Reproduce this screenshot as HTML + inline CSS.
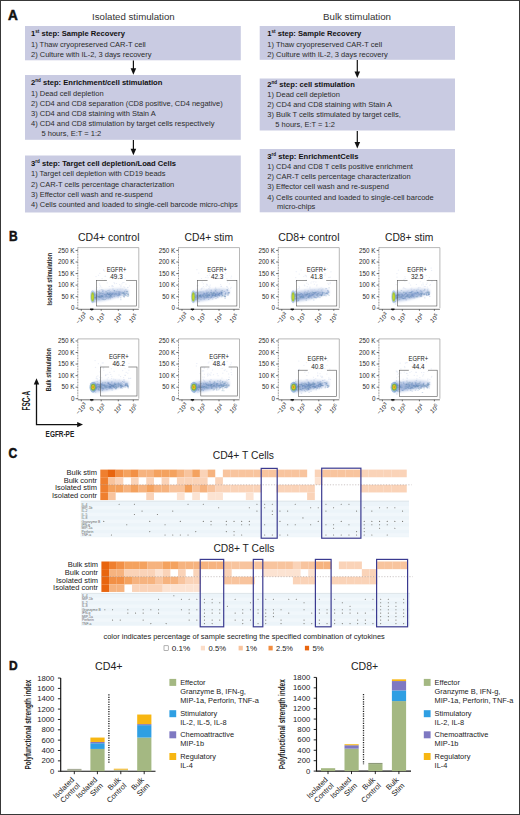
<!DOCTYPE html>
<html><head><meta charset="utf-8"><style>
html,body{margin:0;padding:0;background:#fff;}
svg{display:block;font-family:"Liberation Sans", sans-serif;}
</style></head><body>
<svg width="520" height="815" viewBox="0 0 520 815">
<defs><filter id="bl" x="-20%" y="-50%" width="140%" height="200%"><feGaussianBlur stdDeviation="0.8"/></filter></defs>
<rect x="0" y="0" width="520" height="815" fill="#fff"/>
<text x="8.00" y="19.70" font-size="13.8" fill="#111" font-weight="700" textLength="9.80" lengthAdjust="spacingAndGlyphs" stroke="#111" stroke-width="0.5">A</text>
<text x="92.00" y="19.60" font-size="9.6" fill="#333" textLength="82.70" lengthAdjust="spacingAndGlyphs">Isolated stimulation</text>
<text x="323.00" y="19.60" font-size="9.6" fill="#333" textLength="68.00" lengthAdjust="spacingAndGlyphs">Bulk stimulation</text>
<rect x="25.00" y="26.00" width="215.80" height="34.30" fill="#c9cbe2"/>
<g transform="translate(31.00,36.30) scale(1.0,1)"><text x="0" y="0" font-size="7.6" fill="#111" font-weight="700">1<tspan font-size="4.6" dy="-3.0">st</tspan><tspan dy="3.0"> step: Sample Recovery</tspan></text></g>
<text x="31.00" y="46.50" font-size="7.5" fill="#2b2b2b">1) Thaw cryopreserved CAR-T cell</text>
<text x="31.00" y="56.50" font-size="7.5" fill="#2b2b2b">2) Culture with IL-2, 3 days recovery</text>
<line x1="133.40" y1="60.50" x2="133.40" y2="69.70" stroke="#111" stroke-width="1.2"/>
<path d="M130.60,68.20 L136.20,68.20 L133.40,74.70 Z" fill="#111"/>
<rect x="25.00" y="75.00" width="215.80" height="64.80" fill="#c9cbe2"/>
<g transform="translate(31.00,85.30) scale(1.0,1)"><text x="0" y="0" font-size="7.6" fill="#111" font-weight="700">2<tspan font-size="4.6" dy="-3.0">nd</tspan><tspan dy="3.0"> step: Enrichment/cell stimulation</tspan></text></g>
<text x="31.00" y="95.80" font-size="7.5" fill="#2b2b2b">1) Dead cell depletion</text>
<text x="31.00" y="105.80" font-size="7.5" fill="#2b2b2b">2) CD4 and CD8 separation (CD8 positive, CD4 negative)</text>
<text x="31.00" y="115.80" font-size="7.5" fill="#2b2b2b">3) CD4 and CD8 staining with Stain A</text>
<text x="31.00" y="125.90" font-size="7.5" fill="#2b2b2b">4) CD4 and CD8 stimulation by target cells respectively</text>
<text x="41.50" y="135.80" font-size="7.5" fill="#2b2b2b">5 hours, E:T = 1:2</text>
<line x1="133.40" y1="140.00" x2="133.40" y2="150.30" stroke="#111" stroke-width="1.2"/>
<path d="M130.60,148.80 L136.20,148.80 L133.40,155.30 Z" fill="#111"/>
<rect x="25.00" y="155.50" width="215.80" height="57.00" fill="#c9cbe2"/>
<g transform="translate(31.00,165.70) scale(1.0,1)"><text x="0" y="0" font-size="7.6" fill="#111" font-weight="700">3<tspan font-size="4.6" dy="-3.0">rd</tspan><tspan dy="3.0"> step: Target cell depletion/Load Cells</tspan></text></g>
<text x="31.00" y="176.20" font-size="7.5" fill="#2b2b2b">1) Target cell depletion with CD19 beads</text>
<text x="31.00" y="186.50" font-size="7.5" fill="#2b2b2b">2) CAR-T cells percentage characterization</text>
<text x="31.00" y="196.60" font-size="7.5" fill="#2b2b2b">3) Effector cell wash and re-suspend</text>
<text x="31.00" y="206.80" font-size="7.5" fill="#2b2b2b">4) Cells counted and loaded to single-cell barcode micro-chips</text>
<rect x="259.70" y="26.00" width="195.30" height="33.80" fill="#c9cbe2"/>
<g transform="translate(267.30,36.40) scale(1.0,1)"><text x="0" y="0" font-size="7.6" fill="#111" font-weight="700">1<tspan font-size="4.6" dy="-3.0">st</tspan><tspan dy="3.0"> step: Sample Recovery</tspan></text></g>
<text x="267.30" y="46.80" font-size="7.5" fill="#2b2b2b">1) Thaw cryopreserved CAR-T cell</text>
<text x="267.30" y="56.60" font-size="7.5" fill="#2b2b2b">2) Culture with IL-2, 3 days recovery</text>
<line x1="357.30" y1="60.00" x2="357.30" y2="73.00" stroke="#111" stroke-width="1.2"/>
<path d="M354.50,71.50 L360.10,71.50 L357.30,78.00 Z" fill="#111"/>
<rect x="259.70" y="78.50" width="195.30" height="52.00" fill="#c9cbe2"/>
<g transform="translate(267.30,86.80) scale(1.0,1)"><text x="0" y="0" font-size="7.6" fill="#111" font-weight="700">2<tspan font-size="4.6" dy="-3.0">nd</tspan><tspan dy="3.0"> step: cell stimulation</tspan></text></g>
<text x="267.30" y="97.00" font-size="7.5" fill="#2b2b2b">1) Dead cell depletion</text>
<text x="267.30" y="107.20" font-size="7.5" fill="#2b2b2b">2) CD4 and CD8 staining with Stain A</text>
<text x="267.30" y="117.30" font-size="7.5" fill="#2b2b2b">3) Bulk T cells stimulated by target cells,</text>
<text x="275.30" y="127.20" font-size="7.5" fill="#2b2b2b">5 hours, E:T = 1:2</text>
<line x1="357.30" y1="131.00" x2="357.30" y2="143.50" stroke="#111" stroke-width="1.2"/>
<path d="M354.50,142.00 L360.10,142.00 L357.30,148.50 Z" fill="#111"/>
<rect x="259.70" y="149.00" width="195.30" height="63.30" fill="#c9cbe2"/>
<g transform="translate(267.30,158.60) scale(1.0,1)"><text x="0" y="0" font-size="7.6" fill="#111" font-weight="700">3<tspan font-size="4.6" dy="-3.0">rd</tspan><tspan dy="3.0"> step: EnrichmentCells</tspan></text></g>
<text x="267.30" y="169.00" font-size="7.5" fill="#2b2b2b">1) CD4 and CD8 T cells positive enrichment</text>
<text x="267.30" y="179.20" font-size="7.5" fill="#2b2b2b">2) CAR-T cells percentage characterization</text>
<text x="267.30" y="189.30" font-size="7.5" fill="#2b2b2b">3) Effector cell wash and re-suspend</text>
<text x="267.30" y="199.60" font-size="7.5" fill="#2b2b2b">4) Cells counted and loaded to single-cell barcode</text>
<text x="277.00" y="209.20" font-size="7.5" fill="#2b2b2b">micro-chips</text>
<text x="9.00" y="241.30" font-size="14" fill="#111" font-weight="700" textLength="8.65" lengthAdjust="spacingAndGlyphs" stroke="#111" stroke-width="0.5">B</text>
<text x="78.00" y="241.20" font-size="10.5" fill="#222" textLength="61.50" lengthAdjust="spacingAndGlyphs">CD4+ control</text>
<text x="184.50" y="241.20" font-size="10.5" fill="#222" textLength="48.50" lengthAdjust="spacingAndGlyphs">CD4+ stim</text>
<text x="278.30" y="241.20" font-size="10.5" fill="#222" textLength="61.20" lengthAdjust="spacingAndGlyphs">CD8+ control</text>
<text x="385.00" y="241.20" font-size="10.5" fill="#222" textLength="48.30" lengthAdjust="spacingAndGlyphs">CD8+ stim</text>
<path d="M77.80,247.60 H138.80 V308.20" fill="none" stroke="#999" stroke-width="0.7"/>
<path d="M93.30,291.15 C105.80,289.65 119.80,286.95 128.80,289.95 L128.80,293.95 C119.80,295.95 105.80,301.65 93.30,302.15 Z" fill="#b4c4e6" fill-opacity="0.6" filter="url(#bl)"/>
<path d="M93.30,293.45 C103.80,292.85 113.80,290.91 121.80,292.09 L121.80,295.09 C113.80,296.61 103.80,299.85 93.30,300.05 Z" fill="#6f8fc4" fill-opacity="0.5" filter="url(#bl)"/>
<path d="M107.4 290.7h.6M128.1 294.9h.6M101.7 299.2h.6M96.0 298.1h.6M119.5 294.1h.6M93.6 297.7h.6M93.5 297.9h.6M120.3 295.1h.6M119.2 292.6h.6M103.0 297.3h.6M96.8 293.7h.6M98.7 299.6h.6M126.8 293.8h.6M96.5 295.6h.6M111.2 296.6h.6M104.2 294.3h.6M117.9 297.7h.6M95.5 297.8h.6M117.6 295.3h.6M125.7 293.0h.6M125.1 295.7h.6M118.6 291.8h.6M124.0 297.2h.6M123.5 296.4h.6M96.1 295.7h.6M102.6 299.0h.6M101.3 293.1h.6M111.7 292.9h.6M114.6 292.0h.6M107.1 293.1h.6M93.5 294.9h.6M110.3 296.4h.6M105.9 297.0h.6M123.5 293.9h.6M125.3 294.6h.6M127.5 294.4h.6M122.6 292.4h.6M109.2 296.9h.6M119.1 294.6h.6M125.1 294.4h.6M110.3 293.2h.6M124.3 291.1h.6M126.1 293.3h.6M112.0 293.5h.6M110.0 291.7h.6M109.7 294.7h.6M125.5 289.8h.6M101.0 297.1h.6M108.8 292.7h.6M94.1 296.7h.6M102.8 295.9h.6M113.6 294.0h.6M102.6 291.5h.6M123.9 294.3h.6M95.7 297.1h.6M95.7 294.3h.6M120.5 299.7h.6M124.5 294.3h.6M95.6 301.9h.6M103.0 293.0h.6M99.1 296.6h.6M105.8 291.3h.6M112.7 289.0h.6M118.2 294.9h.6M96.7 291.9h.6M93.5 294.6h.6M127.9 293.9h.6M110.3 297.0h.6M93.8 293.5h.6M100.7 297.9h.6" stroke="#6a8fc8" stroke-opacity="0.3" stroke-width="0.9" stroke-linecap="round"/>
<path d="M107.3 293.4h.6M98.5 296.9h.6M107.2 296.9h.6M114.0 296.5h.6M127.6 295.9h.6M114.6 293.9h.6M123.5 293.7h.6M109.8 295.5h.6M101.9 296.7h.6M101.3 295.8h.6M118.7 291.7h.6M109.4 297.4h.6M93.3 301.1h.6M99.1 292.4h.6M127.9 293.8h.6M105.0 296.8h.6M100.2 296.6h.6M104.4 294.6h.6M108.5 294.3h.6M124.6 295.4h.6M100.4 297.2h.6M96.0 294.8h.6M106.2 298.7h.6M127.5 292.1h.6M126.2 291.4h.6M94.0 301.9h.6M93.7 294.7h.6M128.3 295.4h.6M94.3 297.9h.6M103.8 299.7h.6M122.9 295.6h.6M126.6 295.9h.6M124.2 293.1h.6M101.2 296.3h.6M109.8 297.1h.6M126.6 291.7h.6M98.7 296.8h.6M110.5 295.3h.6M109.1 296.3h.6M107.4 293.9h.6M123.8 296.1h.6M107.8 294.3h.6M123.0 292.9h.6M110.4 295.4h.6M97.2 291.3h.6M121.6 293.0h.6M122.1 293.5h.6M100.6 293.1h.6M100.2 293.2h.6M96.4 296.3h.6M93.8 292.8h.6M122.9 293.7h.6M114.2 290.8h.6M110.7 294.5h.6M96.2 295.3h.6M96.0 299.3h.6M127.9 294.5h.6M102.9 299.3h.6M125.9 295.3h.6M105.7 291.9h.6M126.1 293.3h.6M118.9 294.2h.6M107.0 292.9h.6M124.5 291.7h.6M114.2 294.9h.6" stroke="#5a86a8" stroke-opacity="0.3" stroke-width="0.9" stroke-linecap="round"/>
<path d="M120.1 292.1h.6M93.6 295.7h.6M93.9 294.0h.6M105.0 299.5h.6M99.2 294.8h.6M108.0 297.3h.6M111.5 294.6h.6M118.8 295.3h.6M106.2 296.3h.6M102.2 291.1h.6M111.9 297.3h.6M123.6 292.3h.6M108.7 290.3h.6M99.2 293.4h.6M118.4 296.0h.6M94.7 297.5h.6M101.5 289.7h.6M102.5 296.2h.6M102.4 293.7h.6M108.1 298.8h.6M93.6 295.3h.6M113.1 293.0h.6M121.9 292.1h.6M109.8 293.2h.6M108.4 294.9h.6M98.9 297.0h.6M105.7 295.3h.6M99.4 297.3h.6M108.9 294.4h.6M117.0 295.9h.6M102.8 290.2h.6M107.4 294.0h.6M119.2 293.9h.6M127.7 296.5h.6M124.6 293.7h.6M120.4 297.8h.6M99.1 290.9h.6M127.0 291.3h.6M105.9 294.9h.6M109.2 294.6h.6M110.7 296.0h.6M116.2 294.4h.6M110.0 298.8h.6M98.5 292.1h.6M116.6 291.4h.6M106.0 294.1h.6M112.3 294.0h.6M99.8 295.7h.6M123.9 294.9h.6M123.8 296.7h.6M116.0 293.2h.6M114.0 290.6h.6M97.1 296.8h.6M95.2 298.7h.6M93.5 295.2h.6M118.0 293.2h.6M95.6 297.2h.6M101.4 295.6h.6M123.5 292.8h.6M98.3 296.6h.6M102.0 296.2h.6M109.6 293.6h.6M94.4 297.3h.6M111.6 294.1h.6M115.3 293.8h.6" stroke="#4a72ad" stroke-opacity="0.3" stroke-width="0.9" stroke-linecap="round"/>
<path d="M108.7 270.4h.4M108.7 269.4h.4M125.6 280.1h.4M116.3 283.5h.4M112.6 286.7h.4M109.1 286.5h.4M113.9 282.6h.4M104.5 271.1h.4M118.7 275.3h.4M95.8 276.6h.4M115.9 278.7h.4M109.5 277.9h.4M96.7 287.6h.4M109.1 280.6h.4M120.8 285.4h.4M123.5 286.8h.4M120.7 286.6h.4M122.0 289.0h.4M98.3 275.3h.4M127.5 287.5h.4M129.4 285.9h.4M120.2 289.1h.4M109.8 289.4h.4M125.8 284.2h.4M100.4 286.3h.4M99.8 285.3h.4M116.4 278.5h.4M119.4 284.6h.4M121.6 273.1h.4M99.7 287.8h.4M99.4 283.9h.4M112.9 286.3h.4M113.1 272.9h.4M104.7 280.3h.4M120.9 276.5h.4M101.6 287.8h.4M103.4 270.5h.4M112.9 278.4h.4M101.9 278.6h.4M117.4 289.6h.4M104.1 290.7h.4M96.2 289.2h.4M104.8 276.3h.4M127.7 287.3h.4M103.3 269.5h.4M112.2 285.5h.4M107.0 282.9h.4M99.6 273.4h.4M123.7 282.5h.4M124.4 272.1h.4M122.5 282.7h.4M121.7 283.9h.4M100.2 289.8h.4M124.9 278.8h.4M105.3 276.2h.4M124.5 287.3h.4M118.3 279.8h.4M111.4 286.1h.4M114.4 283.7h.4M115.2 273.6h.4" stroke="#a9bbe0" stroke-opacity="0.35" stroke-width="0.7" stroke-linecap="round"/>
<ellipse cx="92.60" cy="296.65" rx="2.4" ry="6.5" fill="#7ea6d6" fill-opacity="0.55"/>
<ellipse cx="92.60" cy="296.95" rx="1.5" ry="4.6" fill="#9fc43e"/>
<ellipse cx="92.60" cy="296.95" rx="0.8" ry="2.8" fill="#c6d62c"/>
<rect x="96.50" y="280.30" width="40.00" height="25.70" fill="none" stroke="#555" stroke-width="0.6"/>
<rect x="106.90" y="279.30" width="19.2" height="2" fill="#fff"/>
<text x="106.70" y="271.70" font-size="6.6" fill="#222" textLength="19.60" lengthAdjust="spacingAndGlyphs">EGFR+</text>
<text x="110.30" y="278.60" font-size="6.6" fill="#222" textLength="12.40" lengthAdjust="spacingAndGlyphs">49.3</text>
<line x1="77.80" y1="247.60" x2="77.80" y2="309.30" stroke="#666" stroke-width="0.8" stroke-dasharray="0.9,0.7"/>
<line x1="77.80" y1="309.30" x2="138.80" y2="309.30" stroke="#555" stroke-width="0.8"/>
<line x1="75.60" y1="308.20" x2="77.80" y2="308.20" stroke="#333" stroke-width="0.7"/>
<text x="74.40" y="310.30" font-size="6.3" fill="#2a2a2a" text-anchor="end">0</text>
<line x1="75.60" y1="296.65" x2="77.80" y2="296.65" stroke="#333" stroke-width="0.7"/>
<text x="74.40" y="298.75" font-size="6.3" fill="#2a2a2a" text-anchor="end">50 K</text>
<line x1="75.60" y1="285.10" x2="77.80" y2="285.10" stroke="#333" stroke-width="0.7"/>
<text x="74.40" y="287.20" font-size="6.3" fill="#2a2a2a" text-anchor="end">100 K</text>
<line x1="75.60" y1="273.55" x2="77.80" y2="273.55" stroke="#333" stroke-width="0.7"/>
<text x="74.40" y="275.65" font-size="6.3" fill="#2a2a2a" text-anchor="end">150 K</text>
<line x1="75.60" y1="262.00" x2="77.80" y2="262.00" stroke="#333" stroke-width="0.7"/>
<text x="74.40" y="264.10" font-size="6.3" fill="#2a2a2a" text-anchor="end">200 K</text>
<line x1="75.60" y1="250.45" x2="77.80" y2="250.45" stroke="#333" stroke-width="0.7"/>
<text x="74.40" y="252.55" font-size="6.3" fill="#2a2a2a" text-anchor="end">250 K</text>
<line x1="81.30" y1="309.30" x2="81.30" y2="310.80" stroke="#333" stroke-width="0.7"/>
<g transform="translate(82.80,319.80) rotate(-45)"><text x="0" y="0" font-size="6.2" fill="#222" text-anchor="middle">−10<tspan font-size="4.8" dy="-2.2">3</tspan></text></g>
<line x1="91.80" y1="309.30" x2="91.80" y2="310.80" stroke="#333" stroke-width="0.7"/>
<g transform="translate(93.30,319.80) rotate(-45)"><text x="0" y="0" font-size="6.2" fill="#222" text-anchor="middle">0</text></g>
<line x1="101.20" y1="309.30" x2="101.20" y2="310.80" stroke="#333" stroke-width="0.7"/>
<g transform="translate(102.70,319.80) rotate(-45)"><text x="0" y="0" font-size="6.2" fill="#222" text-anchor="middle">10<tspan font-size="4.8" dy="-2.2">3</tspan></text></g>
<line x1="118.30" y1="309.30" x2="118.30" y2="310.80" stroke="#333" stroke-width="0.7"/>
<g transform="translate(119.80,319.80) rotate(-45)"><text x="0" y="0" font-size="6.2" fill="#222" text-anchor="middle">10<tspan font-size="4.8" dy="-2.2">4</tspan></text></g>
<line x1="133.30" y1="309.30" x2="133.30" y2="310.80" stroke="#333" stroke-width="0.7"/>
<g transform="translate(134.80,319.80) rotate(-45)"><text x="0" y="0" font-size="6.2" fill="#222" text-anchor="middle">10<tspan font-size="4.8" dy="-2.2">5</tspan></text></g>
<line x1="90.10" y1="309.30" x2="93.40" y2="309.30" stroke="#111" stroke-width="1.5"/>
<path d="M178.50,247.60 H239.50 V308.20" fill="none" stroke="#999" stroke-width="0.7"/>
<path d="M194.00,291.15 C206.50,289.65 220.50,286.95 229.50,289.95 L229.50,293.95 C220.50,295.95 206.50,301.65 194.00,302.15 Z" fill="#b4c4e6" fill-opacity="0.6" filter="url(#bl)"/>
<path d="M194.00,293.45 C204.50,292.85 214.50,290.91 222.50,292.09 L222.50,295.09 C214.50,296.61 204.50,299.85 194.00,300.05 Z" fill="#6f8fc4" fill-opacity="0.5" filter="url(#bl)"/>
<path d="M208.5 295.3h.6M203.5 294.0h.6M212.3 299.1h.6M207.5 292.8h.6M206.0 295.0h.6M220.9 294.0h.6M212.1 296.4h.6M215.4 293.9h.6M203.9 294.4h.6M204.1 293.6h.6M216.2 295.0h.6M225.6 293.1h.6M202.5 296.5h.6M218.4 294.2h.6M199.4 295.7h.6M210.1 298.3h.6M199.0 295.8h.6M209.0 294.8h.6M221.1 294.7h.6M224.7 296.5h.6M207.0 296.9h.6M204.5 293.5h.6M227.2 290.7h.6M206.8 296.1h.6M206.7 290.1h.6M203.3 295.8h.6M216.7 296.0h.6M208.9 295.3h.6M202.7 291.9h.6M196.8 295.6h.6M218.1 295.8h.6M221.9 292.8h.6M210.9 294.9h.6M211.9 295.4h.6M217.7 294.3h.6M211.5 297.5h.6M215.7 294.7h.6M203.9 299.4h.6M228.7 292.9h.6M213.5 297.4h.6M216.7 297.0h.6M212.3 295.8h.6M206.3 292.0h.6M219.5 294.2h.6M225.0 293.5h.6M200.9 296.8h.6M227.9 292.5h.6M217.0 293.0h.6M227.0 294.9h.6M195.4 300.0h.6M212.9 295.3h.6M203.0 295.8h.6M224.9 294.9h.6M203.0 295.2h.6M203.9 297.9h.6M201.7 295.3h.6M220.7 292.0h.6M200.4 295.7h.6M194.1 294.0h.6M213.2 294.9h.6M200.6 294.8h.6M200.6 299.6h.6M211.4 296.6h.6M194.3 293.9h.6M218.7 294.9h.6" stroke="#6a8fc8" stroke-opacity="0.3" stroke-width="0.9" stroke-linecap="round"/>
<path d="M199.9 295.7h.6M213.6 293.9h.6M208.3 296.2h.6M196.0 296.6h.6M211.3 292.9h.6M218.6 294.9h.6M209.4 293.8h.6M209.3 295.4h.6M224.6 296.3h.6M205.8 296.3h.6M200.1 296.3h.6M214.5 295.9h.6M221.0 291.2h.6M197.8 294.4h.6M197.4 296.1h.6M199.8 295.5h.6M195.8 295.5h.6M215.5 296.5h.6M212.1 294.6h.6M199.7 296.1h.6M198.0 292.3h.6M199.5 295.7h.6M207.9 294.5h.6M196.3 297.1h.6M222.5 295.1h.6M214.3 295.8h.6M215.7 289.2h.6M222.1 295.6h.6M228.5 293.3h.6M228.9 292.4h.6M226.8 289.7h.6M212.6 293.7h.6M208.1 295.0h.6M211.4 293.4h.6M195.5 297.7h.6M208.1 292.1h.6M197.6 298.6h.6M222.9 296.0h.6M198.2 295.6h.6M205.7 295.7h.6M213.5 292.7h.6M225.5 294.1h.6M222.6 291.9h.6M206.5 292.8h.6M203.8 296.8h.6M202.6 294.6h.6M224.2 296.7h.6M205.1 295.5h.6M207.0 295.8h.6M224.3 295.7h.6M197.7 293.5h.6M199.6 292.0h.6M221.2 293.2h.6M202.1 295.6h.6M214.3 293.6h.6M195.5 295.2h.6M210.4 297.2h.6M222.1 290.5h.6M211.5 294.8h.6M194.7 293.9h.6M203.6 296.4h.6M195.7 299.1h.6M212.7 293.3h.6M217.1 295.8h.6M196.2 292.3h.6" stroke="#5a86a8" stroke-opacity="0.3" stroke-width="0.9" stroke-linecap="round"/>
<path d="M203.7 293.1h.6M200.1 294.8h.6M224.8 298.4h.6M221.5 296.8h.6M210.3 292.4h.6M195.5 292.3h.6M215.5 294.1h.6M219.0 293.4h.6M219.4 296.0h.6M221.3 293.9h.6M204.9 294.7h.6M221.2 292.4h.6M201.0 297.0h.6M228.6 292.7h.6M215.3 294.8h.6M219.3 293.1h.6M212.9 295.2h.6M215.7 298.6h.6M209.1 295.2h.6M228.0 294.3h.6M215.6 291.3h.6M211.0 292.1h.6M212.4 295.4h.6M221.9 295.1h.6M217.0 292.9h.6M194.4 294.0h.6M195.6 299.0h.6M219.0 295.4h.6M219.3 293.5h.6M214.6 295.2h.6M217.4 294.8h.6M207.4 295.6h.6M204.2 297.8h.6M215.2 290.5h.6M206.2 293.5h.6M215.4 295.8h.6M213.9 292.1h.6M208.4 297.5h.6M200.8 292.0h.6M213.4 293.0h.6M221.2 292.7h.6M206.4 294.8h.6M195.2 297.3h.6M207.3 296.8h.6M224.3 291.4h.6M215.6 294.3h.6M207.0 293.9h.6M225.1 296.3h.6M194.5 296.6h.6M197.7 296.9h.6M225.0 297.0h.6M198.6 301.7h.6M211.0 290.3h.6M199.2 296.6h.6M227.4 293.3h.6M206.7 297.4h.6M217.6 297.7h.6M224.8 294.3h.6M214.9 295.9h.6M208.4 299.4h.6M210.9 297.1h.6M221.2 292.9h.6M198.4 297.7h.6M194.6 296.9h.6M205.7 297.7h.6M225.4 292.9h.6M227.1 289.9h.6M227.8 295.3h.6M218.1 294.4h.6M200.7 297.1h.6" stroke="#4a72ad" stroke-opacity="0.3" stroke-width="0.9" stroke-linecap="round"/>
<path d="M201.7 288.3h.4M201.3 278.5h.4M225.4 273.6h.4M197.7 285.7h.4M208.6 288.3h.4M230.4 288.4h.4M213.1 275.5h.4M231.0 287.3h.4M211.9 276.0h.4M196.9 288.9h.4M227.5 287.6h.4M209.6 286.8h.4M210.8 289.8h.4M196.7 269.7h.4M223.0 275.4h.4M203.8 288.1h.4M215.4 287.3h.4M212.1 270.4h.4M208.6 286.2h.4M230.8 278.0h.4M196.9 285.9h.4M218.9 289.3h.4M207.9 277.8h.4M226.6 278.9h.4M227.4 281.9h.4M209.6 273.4h.4M209.2 275.2h.4M203.3 286.5h.4M202.1 282.1h.4M201.4 289.1h.4M203.2 283.9h.4M206.6 284.1h.4M231.3 276.2h.4M226.6 286.9h.4M209.3 290.0h.4M220.4 284.6h.4M205.4 290.7h.4M202.1 288.1h.4M209.6 270.9h.4M221.2 286.3h.4M208.5 289.2h.4M229.2 283.9h.4M223.1 275.7h.4M228.2 288.7h.4M207.1 285.4h.4M198.5 273.1h.4M207.2 275.7h.4M214.2 289.7h.4M209.7 287.8h.4M197.0 290.2h.4M216.9 289.6h.4M206.7 284.6h.4M215.1 288.8h.4M220.9 286.5h.4M221.6 277.4h.4M200.8 289.1h.4M205.6 277.5h.4M210.1 285.1h.4M226.7 286.5h.4M206.0 286.3h.4" stroke="#a9bbe0" stroke-opacity="0.35" stroke-width="0.7" stroke-linecap="round"/>
<ellipse cx="193.30" cy="296.65" rx="2.4" ry="6.5" fill="#7ea6d6" fill-opacity="0.55"/>
<ellipse cx="193.30" cy="296.95" rx="1.5" ry="4.6" fill="#9fc43e"/>
<ellipse cx="193.30" cy="296.95" rx="0.8" ry="2.8" fill="#c6d62c"/>
<rect x="197.40" y="280.30" width="39.50" height="25.70" fill="none" stroke="#555" stroke-width="0.6"/>
<rect x="207.55" y="279.30" width="19.2" height="2" fill="#fff"/>
<text x="207.35" y="271.70" font-size="6.6" fill="#222" textLength="19.60" lengthAdjust="spacingAndGlyphs">EGFR+</text>
<text x="210.95" y="278.60" font-size="6.6" fill="#222" textLength="12.40" lengthAdjust="spacingAndGlyphs">42.3</text>
<line x1="178.50" y1="247.60" x2="178.50" y2="309.30" stroke="#666" stroke-width="0.8" stroke-dasharray="0.9,0.7"/>
<line x1="178.50" y1="309.30" x2="239.50" y2="309.30" stroke="#555" stroke-width="0.8"/>
<line x1="176.30" y1="308.20" x2="178.50" y2="308.20" stroke="#333" stroke-width="0.7"/>
<text x="175.10" y="310.30" font-size="6.3" fill="#2a2a2a" text-anchor="end">0</text>
<line x1="176.30" y1="296.65" x2="178.50" y2="296.65" stroke="#333" stroke-width="0.7"/>
<text x="175.10" y="298.75" font-size="6.3" fill="#2a2a2a" text-anchor="end">50 K</text>
<line x1="176.30" y1="285.10" x2="178.50" y2="285.10" stroke="#333" stroke-width="0.7"/>
<text x="175.10" y="287.20" font-size="6.3" fill="#2a2a2a" text-anchor="end">100 K</text>
<line x1="176.30" y1="273.55" x2="178.50" y2="273.55" stroke="#333" stroke-width="0.7"/>
<text x="175.10" y="275.65" font-size="6.3" fill="#2a2a2a" text-anchor="end">150 K</text>
<line x1="176.30" y1="262.00" x2="178.50" y2="262.00" stroke="#333" stroke-width="0.7"/>
<text x="175.10" y="264.10" font-size="6.3" fill="#2a2a2a" text-anchor="end">200 K</text>
<line x1="176.30" y1="250.45" x2="178.50" y2="250.45" stroke="#333" stroke-width="0.7"/>
<text x="175.10" y="252.55" font-size="6.3" fill="#2a2a2a" text-anchor="end">250 K</text>
<line x1="182.00" y1="309.30" x2="182.00" y2="310.80" stroke="#333" stroke-width="0.7"/>
<g transform="translate(183.50,319.80) rotate(-45)"><text x="0" y="0" font-size="6.2" fill="#222" text-anchor="middle">−10<tspan font-size="4.8" dy="-2.2">3</tspan></text></g>
<line x1="192.50" y1="309.30" x2="192.50" y2="310.80" stroke="#333" stroke-width="0.7"/>
<g transform="translate(194.00,319.80) rotate(-45)"><text x="0" y="0" font-size="6.2" fill="#222" text-anchor="middle">0</text></g>
<line x1="201.90" y1="309.30" x2="201.90" y2="310.80" stroke="#333" stroke-width="0.7"/>
<g transform="translate(203.40,319.80) rotate(-45)"><text x="0" y="0" font-size="6.2" fill="#222" text-anchor="middle">10<tspan font-size="4.8" dy="-2.2">3</tspan></text></g>
<line x1="219.00" y1="309.30" x2="219.00" y2="310.80" stroke="#333" stroke-width="0.7"/>
<g transform="translate(220.50,319.80) rotate(-45)"><text x="0" y="0" font-size="6.2" fill="#222" text-anchor="middle">10<tspan font-size="4.8" dy="-2.2">4</tspan></text></g>
<line x1="234.00" y1="309.30" x2="234.00" y2="310.80" stroke="#333" stroke-width="0.7"/>
<g transform="translate(235.50,319.80) rotate(-45)"><text x="0" y="0" font-size="6.2" fill="#222" text-anchor="middle">10<tspan font-size="4.8" dy="-2.2">5</tspan></text></g>
<line x1="190.80" y1="309.30" x2="194.10" y2="309.30" stroke="#111" stroke-width="1.5"/>
<path d="M278.30,247.60 H339.30 V308.20" fill="none" stroke="#999" stroke-width="0.7"/>
<path d="M293.80,291.15 C306.30,289.65 320.30,286.95 329.30,289.95 L329.30,293.95 C320.30,295.95 306.30,301.65 293.80,302.15 Z" fill="#b4c4e6" fill-opacity="0.6" filter="url(#bl)"/>
<path d="M293.80,293.45 C304.30,292.85 314.30,290.91 322.30,292.09 L322.30,295.09 C314.30,296.61 304.30,299.85 293.80,300.05 Z" fill="#6f8fc4" fill-opacity="0.5" filter="url(#bl)"/>
<path d="M299.8 296.5h.6M321.2 295.6h.6M300.4 296.8h.6M299.4 296.3h.6M312.6 292.8h.6M325.3 293.5h.6M302.6 297.9h.6M313.8 296.5h.6M293.9 296.7h.6M309.3 293.5h.6M321.8 292.1h.6M303.0 297.4h.6M304.8 294.2h.6M324.2 292.5h.6M312.0 292.0h.6M320.9 295.4h.6M302.3 297.3h.6M306.7 293.8h.6M302.1 295.7h.6M298.4 298.4h.6M317.9 293.4h.6M305.6 296.1h.6M303.3 296.9h.6M297.8 300.2h.6M311.4 293.9h.6M326.6 293.4h.6M296.8 298.3h.6M302.9 296.6h.6M294.0 296.0h.6M306.0 300.3h.6M306.1 294.9h.6M294.3 294.8h.6M297.5 294.5h.6M299.7 297.6h.6M297.7 294.6h.6M295.1 294.7h.6M313.9 297.7h.6M306.8 292.5h.6M325.8 295.8h.6M307.9 297.6h.6M313.3 292.7h.6M307.7 294.0h.6M294.8 298.6h.6M318.5 293.1h.6M322.4 293.4h.6M309.2 294.1h.6M320.9 296.0h.6M295.5 293.9h.6M299.5 292.7h.6M327.6 291.0h.6M317.0 294.6h.6M316.7 295.4h.6M297.6 293.2h.6M308.0 297.3h.6M300.4 297.5h.6M314.7 293.4h.6M321.7 295.5h.6M294.4 297.8h.6M308.8 296.9h.6M328.8 287.8h.6M306.0 294.5h.6M293.9 296.5h.6M316.9 295.4h.6M321.3 290.1h.6M306.5 295.0h.6M328.8 295.4h.6" stroke="#5a86a8" stroke-opacity="0.3" stroke-width="0.9" stroke-linecap="round"/>
<path d="M309.0 295.2h.6M295.4 296.1h.6M326.0 293.1h.6M300.6 293.8h.6M296.9 301.2h.6M312.0 294.6h.6M317.3 293.9h.6M313.7 292.7h.6M327.9 294.2h.6M301.2 297.0h.6M327.5 292.8h.6M299.6 294.9h.6M321.8 294.7h.6M317.3 297.1h.6M328.4 292.1h.6M304.9 294.9h.6M322.5 292.9h.6M298.8 299.2h.6M328.3 292.2h.6M298.0 300.9h.6M311.0 295.6h.6M298.5 300.7h.6M301.2 296.6h.6M295.7 296.6h.6M304.3 292.9h.6M312.2 295.4h.6M322.0 294.6h.6M314.3 293.0h.6M313.0 294.6h.6M296.4 297.9h.6M296.1 300.8h.6M294.2 295.1h.6M307.1 294.2h.6M310.5 296.2h.6M306.1 298.6h.6M319.1 295.0h.6M320.5 294.7h.6M307.9 291.0h.6M323.9 295.1h.6M327.7 291.2h.6M320.8 295.1h.6M326.6 293.0h.6M298.7 294.7h.6M313.6 293.9h.6M317.7 296.6h.6M296.8 299.8h.6M302.3 294.6h.6M301.8 294.7h.6M315.9 292.2h.6M315.8 298.0h.6M307.2 294.2h.6M315.1 292.5h.6M322.1 293.2h.6M308.6 296.8h.6M297.0 295.1h.6" stroke="#4a72ad" stroke-opacity="0.3" stroke-width="0.9" stroke-linecap="round"/>
<path d="M311.7 294.2h.6M301.2 296.2h.6M295.2 295.3h.6M298.0 299.8h.6M318.7 297.1h.6M322.9 292.5h.6M303.4 295.6h.6M303.4 296.1h.6M314.8 297.5h.6M319.8 292.4h.6M301.8 298.0h.6M327.4 290.4h.6M294.6 298.5h.6M309.4 297.0h.6M300.4 298.8h.6M303.7 294.1h.6M304.9 291.8h.6M300.9 293.5h.6M319.8 297.6h.6M294.7 294.7h.6M295.0 294.7h.6M305.9 295.2h.6M317.6 291.4h.6M318.6 295.7h.6M301.5 296.1h.6M322.2 292.2h.6M302.0 296.7h.6M299.8 295.0h.6M311.6 298.2h.6M296.9 293.3h.6M324.2 293.5h.6M314.2 297.2h.6M303.8 298.1h.6M309.0 298.0h.6M321.9 294.0h.6M323.4 295.1h.6M308.3 295.7h.6M301.4 296.0h.6M326.2 288.6h.6M315.4 297.4h.6M325.0 294.2h.6M297.2 295.7h.6M305.1 295.6h.6M309.7 295.4h.6M303.3 295.7h.6M309.5 295.9h.6M295.4 291.4h.6M326.7 293.1h.6M308.4 296.5h.6M294.7 299.2h.6M308.4 295.8h.6M310.0 295.8h.6M295.3 299.1h.6M310.2 292.6h.6M300.5 297.8h.6M303.7 297.3h.6M327.0 293.9h.6M298.7 298.0h.6M294.4 295.4h.6M315.8 294.2h.6M298.4 295.5h.6M296.7 295.9h.6M301.4 293.6h.6M297.0 298.6h.6M316.1 297.3h.6M300.1 294.4h.6M313.3 294.9h.6M307.4 296.7h.6M294.1 293.1h.6M297.2 297.7h.6M315.4 292.4h.6M324.7 295.2h.6M308.5 293.6h.6M313.5 300.1h.6M299.6 294.6h.6M294.1 294.8h.6M326.6 293.9h.6M310.8 297.7h.6M309.9 294.6h.6" stroke="#6a8fc8" stroke-opacity="0.3" stroke-width="0.9" stroke-linecap="round"/>
<path d="M305.9 275.6h.4M304.2 285.0h.4M297.3 289.2h.4M311.6 281.0h.4M311.8 272.9h.4M299.1 274.1h.4M300.9 270.1h.4M314.2 284.3h.4M317.3 272.0h.4M330.0 282.7h.4M295.7 290.3h.4M324.8 275.2h.4M321.0 288.0h.4M314.4 289.8h.4M299.3 287.7h.4M330.1 277.2h.4M325.8 288.7h.4M310.3 289.8h.4M304.7 290.0h.4M328.4 284.6h.4M312.9 278.4h.4M327.2 268.6h.4M315.7 282.0h.4M327.8 283.3h.4M306.1 276.7h.4M304.6 285.9h.4M310.8 283.0h.4M308.2 284.3h.4M311.5 290.0h.4M325.4 288.6h.4M314.3 281.0h.4M309.7 288.1h.4M298.9 286.3h.4M306.6 283.2h.4M303.6 276.6h.4M312.8 290.1h.4M309.9 269.5h.4M295.6 281.6h.4M329.9 283.7h.4M316.8 284.8h.4M306.1 280.2h.4M316.5 285.9h.4M313.2 281.9h.4M322.4 289.0h.4M298.6 288.6h.4M305.0 275.2h.4M310.6 272.7h.4M309.8 287.0h.4M319.8 288.9h.4M330.7 271.8h.4M307.1 286.7h.4M324.8 273.6h.4M318.4 289.3h.4M322.8 289.0h.4M317.8 280.6h.4M328.7 277.5h.4M296.1 271.7h.4M322.4 279.5h.4M295.5 277.7h.4M310.4 278.0h.4" stroke="#a9bbe0" stroke-opacity="0.35" stroke-width="0.7" stroke-linecap="round"/>
<ellipse cx="293.10" cy="296.65" rx="2.4" ry="6.5" fill="#7ea6d6" fill-opacity="0.55"/>
<ellipse cx="293.10" cy="296.95" rx="1.5" ry="4.6" fill="#9fc43e"/>
<ellipse cx="293.10" cy="296.95" rx="0.8" ry="2.8" fill="#c6d62c"/>
<rect x="296.40" y="280.30" width="40.40" height="25.70" fill="none" stroke="#555" stroke-width="0.6"/>
<rect x="307.00" y="279.30" width="19.2" height="2" fill="#fff"/>
<text x="306.80" y="271.70" font-size="6.6" fill="#222" textLength="19.60" lengthAdjust="spacingAndGlyphs">EGFR+</text>
<text x="310.40" y="278.60" font-size="6.6" fill="#222" textLength="12.40" lengthAdjust="spacingAndGlyphs">41.8</text>
<line x1="278.30" y1="247.60" x2="278.30" y2="309.30" stroke="#666" stroke-width="0.8" stroke-dasharray="0.9,0.7"/>
<line x1="278.30" y1="309.30" x2="339.30" y2="309.30" stroke="#555" stroke-width="0.8"/>
<line x1="276.10" y1="308.20" x2="278.30" y2="308.20" stroke="#333" stroke-width="0.7"/>
<text x="274.90" y="310.30" font-size="6.3" fill="#2a2a2a" text-anchor="end">0</text>
<line x1="276.10" y1="296.65" x2="278.30" y2="296.65" stroke="#333" stroke-width="0.7"/>
<text x="274.90" y="298.75" font-size="6.3" fill="#2a2a2a" text-anchor="end">50 K</text>
<line x1="276.10" y1="285.10" x2="278.30" y2="285.10" stroke="#333" stroke-width="0.7"/>
<text x="274.90" y="287.20" font-size="6.3" fill="#2a2a2a" text-anchor="end">100 K</text>
<line x1="276.10" y1="273.55" x2="278.30" y2="273.55" stroke="#333" stroke-width="0.7"/>
<text x="274.90" y="275.65" font-size="6.3" fill="#2a2a2a" text-anchor="end">150 K</text>
<line x1="276.10" y1="262.00" x2="278.30" y2="262.00" stroke="#333" stroke-width="0.7"/>
<text x="274.90" y="264.10" font-size="6.3" fill="#2a2a2a" text-anchor="end">200 K</text>
<line x1="276.10" y1="250.45" x2="278.30" y2="250.45" stroke="#333" stroke-width="0.7"/>
<text x="274.90" y="252.55" font-size="6.3" fill="#2a2a2a" text-anchor="end">250 K</text>
<line x1="281.80" y1="309.30" x2="281.80" y2="310.80" stroke="#333" stroke-width="0.7"/>
<g transform="translate(283.30,319.80) rotate(-45)"><text x="0" y="0" font-size="6.2" fill="#222" text-anchor="middle">−10<tspan font-size="4.8" dy="-2.2">3</tspan></text></g>
<line x1="292.30" y1="309.30" x2="292.30" y2="310.80" stroke="#333" stroke-width="0.7"/>
<g transform="translate(293.80,319.80) rotate(-45)"><text x="0" y="0" font-size="6.2" fill="#222" text-anchor="middle">0</text></g>
<line x1="301.70" y1="309.30" x2="301.70" y2="310.80" stroke="#333" stroke-width="0.7"/>
<g transform="translate(303.20,319.80) rotate(-45)"><text x="0" y="0" font-size="6.2" fill="#222" text-anchor="middle">10<tspan font-size="4.8" dy="-2.2">3</tspan></text></g>
<line x1="318.80" y1="309.30" x2="318.80" y2="310.80" stroke="#333" stroke-width="0.7"/>
<g transform="translate(320.30,319.80) rotate(-45)"><text x="0" y="0" font-size="6.2" fill="#222" text-anchor="middle">10<tspan font-size="4.8" dy="-2.2">4</tspan></text></g>
<line x1="333.80" y1="309.30" x2="333.80" y2="310.80" stroke="#333" stroke-width="0.7"/>
<g transform="translate(335.30,319.80) rotate(-45)"><text x="0" y="0" font-size="6.2" fill="#222" text-anchor="middle">10<tspan font-size="4.8" dy="-2.2">5</tspan></text></g>
<line x1="290.60" y1="309.30" x2="293.90" y2="309.30" stroke="#111" stroke-width="1.5"/>
<path d="M378.90,247.60 H439.90 V308.20" fill="none" stroke="#999" stroke-width="0.7"/>
<path d="M394.40,291.15 C406.90,289.65 420.90,286.95 429.90,289.95 L429.90,293.95 C420.90,295.95 406.90,301.65 394.40,302.15 Z" fill="#b4c4e6" fill-opacity="0.6" filter="url(#bl)"/>
<path d="M394.40,293.45 C404.90,292.85 414.90,290.91 422.90,292.09 L422.90,295.09 C414.90,296.61 404.90,299.85 394.40,300.05 Z" fill="#6f8fc4" fill-opacity="0.5" filter="url(#bl)"/>
<path d="M428.7 294.1h.6M408.0 294.8h.6M405.8 293.2h.6M411.5 294.2h.6M426.6 295.4h.6M420.6 296.6h.6M398.3 295.5h.6M417.5 292.5h.6M415.1 293.4h.6M401.7 297.7h.6M421.6 294.0h.6M403.4 298.6h.6M396.8 295.1h.6M404.7 298.2h.6M428.7 294.7h.6M395.0 298.2h.6M424.4 289.7h.6M422.3 293.1h.6M421.0 295.6h.6M409.5 294.4h.6M402.2 295.1h.6M427.4 290.0h.6M425.5 292.5h.6M403.5 295.3h.6M395.8 296.0h.6M407.1 294.6h.6M414.3 296.9h.6M424.6 294.6h.6M395.0 301.5h.6M401.7 296.2h.6M428.4 294.9h.6M412.8 296.3h.6M424.2 293.4h.6M396.0 295.5h.6M404.4 294.5h.6M412.9 296.6h.6M419.1 294.4h.6M411.6 295.4h.6M417.0 292.4h.6M407.1 295.3h.6M421.1 294.5h.6M412.5 295.6h.6M395.6 296.2h.6M405.9 299.9h.6M396.0 298.6h.6M398.0 294.8h.6M398.1 294.9h.6M418.6 295.3h.6M404.8 297.4h.6M401.9 295.1h.6M406.6 296.6h.6M406.6 295.8h.6M414.3 295.0h.6M413.2 294.1h.6M395.8 298.0h.6M428.2 293.2h.6M402.5 298.2h.6M410.3 292.7h.6M404.6 298.6h.6M428.5 291.8h.6M421.5 291.3h.6M397.4 292.5h.6M426.2 294.1h.6M428.7 294.5h.6M424.1 294.2h.6M395.2 296.6h.6M426.5 292.9h.6M397.1 297.8h.6M411.5 291.6h.6M426.2 294.7h.6M425.5 293.7h.6M411.2 297.6h.6M399.3 299.3h.6" stroke="#4a72ad" stroke-opacity="0.3" stroke-width="0.9" stroke-linecap="round"/>
<path d="M408.2 296.0h.6M416.3 290.3h.6M418.1 293.8h.6M427.5 291.9h.6M416.6 296.6h.6M421.4 293.1h.6M405.8 296.5h.6M405.1 296.4h.6M407.8 296.9h.6M395.9 297.5h.6M397.4 297.6h.6M395.1 295.5h.6M400.5 296.9h.6M397.1 297.3h.6M423.7 290.7h.6M411.8 294.6h.6M398.7 296.1h.6M403.4 292.2h.6M427.1 292.2h.6M428.7 292.2h.6M421.3 294.0h.6M396.5 295.1h.6M407.1 296.1h.6M410.9 296.1h.6M394.7 296.8h.6M405.5 293.8h.6M399.4 294.6h.6M401.1 290.5h.6M416.8 296.8h.6M428.7 293.1h.6M411.2 292.4h.6M428.4 294.2h.6M410.3 296.0h.6M421.2 296.2h.6M408.9 297.0h.6M394.9 302.1h.6M401.5 294.3h.6M403.7 292.7h.6M401.0 296.4h.6M423.6 294.7h.6M420.1 295.7h.6M417.7 292.9h.6M409.4 297.8h.6M415.7 296.7h.6M394.4 294.7h.6M423.3 294.0h.6M399.7 292.3h.6M398.4 294.7h.6M427.6 292.5h.6M426.7 293.3h.6M428.8 292.9h.6M410.2 296.6h.6M420.5 294.0h.6M398.4 293.7h.6M399.5 297.2h.6M395.2 304.0h.6M402.8 296.4h.6M403.0 298.5h.6M409.3 292.5h.6M426.4 294.9h.6" stroke="#5a86a8" stroke-opacity="0.3" stroke-width="0.9" stroke-linecap="round"/>
<path d="M418.7 296.8h.6M397.3 297.0h.6M398.5 295.8h.6M420.4 296.1h.6M400.0 295.2h.6M417.0 292.0h.6M408.6 297.2h.6M409.8 292.5h.6M398.4 300.0h.6M420.1 290.7h.6M417.2 292.4h.6M411.5 296.2h.6M416.4 293.9h.6M409.6 297.7h.6M420.5 291.2h.6M412.9 297.8h.6M426.7 294.8h.6M411.7 291.2h.6M411.2 296.0h.6M396.3 297.2h.6M397.9 294.3h.6M423.8 294.2h.6M398.6 297.1h.6M420.2 293.8h.6M428.4 294.4h.6M400.5 293.9h.6M426.6 291.9h.6M399.1 297.1h.6M400.6 297.4h.6M411.0 292.4h.6M403.2 296.0h.6M405.6 292.5h.6M429.4 296.4h.6M405.9 293.5h.6M424.5 297.9h.6M408.5 292.9h.6M413.2 295.3h.6M396.4 296.6h.6M397.0 298.1h.6M429.3 293.1h.6M427.8 295.4h.6M408.9 295.3h.6M428.3 293.8h.6M401.9 294.2h.6M414.3 298.0h.6M411.6 293.1h.6M412.4 294.0h.6M417.1 296.8h.6M408.8 297.3h.6M401.0 297.9h.6M409.8 296.3h.6M415.6 293.8h.6M417.1 295.4h.6M414.2 292.8h.6M398.6 295.5h.6M414.2 293.4h.6M416.4 293.8h.6M412.7 291.3h.6M415.3 292.6h.6M402.1 295.9h.6M402.8 298.7h.6M420.5 293.4h.6M405.4 293.4h.6M395.6 297.5h.6M407.1 292.0h.6M397.5 291.1h.6M412.0 294.7h.6" stroke="#6a8fc8" stroke-opacity="0.3" stroke-width="0.9" stroke-linecap="round"/>
<path d="M424.2 279.3h.4M429.6 285.6h.4M424.6 288.9h.4M398.0 291.1h.4M431.0 268.1h.4M402.9 288.2h.4M428.5 279.8h.4M396.0 284.7h.4M418.0 271.9h.4M431.7 280.7h.4M424.1 286.5h.4M425.2 286.5h.4M427.0 283.1h.4M399.0 282.1h.4M404.7 281.4h.4M410.4 285.1h.4M422.6 275.5h.4M418.2 287.6h.4M404.7 276.8h.4M431.4 270.5h.4M429.2 277.5h.4M408.0 290.5h.4M426.0 275.5h.4M416.7 275.8h.4M427.2 287.0h.4M397.1 290.9h.4M405.5 288.7h.4M419.8 287.5h.4M411.6 288.1h.4M396.7 273.6h.4M418.3 289.1h.4M422.4 278.4h.4M415.7 278.1h.4M420.3 281.6h.4M424.7 269.4h.4M427.8 288.4h.4M404.1 288.5h.4M417.7 279.5h.4M431.8 281.7h.4M403.6 287.4h.4M417.5 289.2h.4M417.0 276.1h.4M416.2 284.5h.4M426.1 284.5h.4M411.3 289.7h.4M409.6 272.8h.4M406.7 270.1h.4M422.8 283.0h.4M413.8 289.8h.4M403.7 279.4h.4M398.3 270.2h.4M421.5 285.0h.4M409.0 283.2h.4M405.1 278.5h.4M410.6 289.0h.4M396.8 277.2h.4M416.9 273.7h.4M414.2 290.0h.4M423.1 284.8h.4M430.2 284.5h.4" stroke="#a9bbe0" stroke-opacity="0.35" stroke-width="0.7" stroke-linecap="round"/>
<ellipse cx="393.70" cy="296.65" rx="2.4" ry="6.5" fill="#7ea6d6" fill-opacity="0.55"/>
<ellipse cx="393.70" cy="296.95" rx="1.5" ry="4.6" fill="#9fc43e"/>
<ellipse cx="393.70" cy="296.95" rx="0.8" ry="2.8" fill="#c6d62c"/>
<rect x="397.30" y="280.30" width="39.60" height="25.70" fill="none" stroke="#555" stroke-width="0.6"/>
<rect x="407.50" y="279.30" width="19.2" height="2" fill="#fff"/>
<text x="407.30" y="271.70" font-size="6.6" fill="#222" textLength="19.60" lengthAdjust="spacingAndGlyphs">EGFR+</text>
<text x="410.90" y="278.60" font-size="6.6" fill="#222" textLength="12.40" lengthAdjust="spacingAndGlyphs">32.5</text>
<line x1="378.90" y1="247.60" x2="378.90" y2="309.30" stroke="#666" stroke-width="0.8" stroke-dasharray="0.9,0.7"/>
<line x1="378.90" y1="309.30" x2="439.90" y2="309.30" stroke="#555" stroke-width="0.8"/>
<line x1="376.70" y1="308.20" x2="378.90" y2="308.20" stroke="#333" stroke-width="0.7"/>
<text x="375.50" y="310.30" font-size="6.3" fill="#2a2a2a" text-anchor="end">0</text>
<line x1="376.70" y1="296.65" x2="378.90" y2="296.65" stroke="#333" stroke-width="0.7"/>
<text x="375.50" y="298.75" font-size="6.3" fill="#2a2a2a" text-anchor="end">50 K</text>
<line x1="376.70" y1="285.10" x2="378.90" y2="285.10" stroke="#333" stroke-width="0.7"/>
<text x="375.50" y="287.20" font-size="6.3" fill="#2a2a2a" text-anchor="end">100 K</text>
<line x1="376.70" y1="273.55" x2="378.90" y2="273.55" stroke="#333" stroke-width="0.7"/>
<text x="375.50" y="275.65" font-size="6.3" fill="#2a2a2a" text-anchor="end">150 K</text>
<line x1="376.70" y1="262.00" x2="378.90" y2="262.00" stroke="#333" stroke-width="0.7"/>
<text x="375.50" y="264.10" font-size="6.3" fill="#2a2a2a" text-anchor="end">200 K</text>
<line x1="376.70" y1="250.45" x2="378.90" y2="250.45" stroke="#333" stroke-width="0.7"/>
<text x="375.50" y="252.55" font-size="6.3" fill="#2a2a2a" text-anchor="end">250 K</text>
<line x1="382.40" y1="309.30" x2="382.40" y2="310.80" stroke="#333" stroke-width="0.7"/>
<g transform="translate(383.90,319.80) rotate(-45)"><text x="0" y="0" font-size="6.2" fill="#222" text-anchor="middle">−10<tspan font-size="4.8" dy="-2.2">3</tspan></text></g>
<line x1="392.90" y1="309.30" x2="392.90" y2="310.80" stroke="#333" stroke-width="0.7"/>
<g transform="translate(394.40,319.80) rotate(-45)"><text x="0" y="0" font-size="6.2" fill="#222" text-anchor="middle">0</text></g>
<line x1="402.30" y1="309.30" x2="402.30" y2="310.80" stroke="#333" stroke-width="0.7"/>
<g transform="translate(403.80,319.80) rotate(-45)"><text x="0" y="0" font-size="6.2" fill="#222" text-anchor="middle">10<tspan font-size="4.8" dy="-2.2">3</tspan></text></g>
<line x1="419.40" y1="309.30" x2="419.40" y2="310.80" stroke="#333" stroke-width="0.7"/>
<g transform="translate(420.90,319.80) rotate(-45)"><text x="0" y="0" font-size="6.2" fill="#222" text-anchor="middle">10<tspan font-size="4.8" dy="-2.2">4</tspan></text></g>
<line x1="434.40" y1="309.30" x2="434.40" y2="310.80" stroke="#333" stroke-width="0.7"/>
<g transform="translate(435.90,319.80) rotate(-45)"><text x="0" y="0" font-size="6.2" fill="#222" text-anchor="middle">10<tspan font-size="4.8" dy="-2.2">5</tspan></text></g>
<line x1="391.20" y1="309.30" x2="394.50" y2="309.30" stroke="#111" stroke-width="1.5"/>
<path d="M77.80,338.90 H138.80 V398.70" fill="none" stroke="#999" stroke-width="0.7"/>
<path d="M93.30,381.65 C105.80,380.15 119.80,378.65 128.80,381.65 L128.80,385.65 C119.80,387.65 105.80,392.15 93.30,392.65 Z" fill="#b4c4e6" fill-opacity="0.6" filter="url(#bl)"/>
<path d="M93.30,383.95 C103.80,383.35 113.80,382.25 121.80,383.55 L121.80,386.55 C113.80,387.95 103.80,390.35 93.30,390.55 Z" fill="#6f8fc4" fill-opacity="0.5" filter="url(#bl)"/>
<path d="M125.2 385.9h.6M101.7 384.0h.6M115.6 386.3h.6M110.2 386.5h.6M95.1 386.3h.6M104.8 388.2h.6M118.0 384.2h.6M121.1 386.4h.6M99.2 385.7h.6M126.9 384.2h.6M124.9 384.8h.6M112.9 384.8h.6M112.5 385.5h.6M116.4 385.6h.6M104.0 384.9h.6M93.6 386.2h.6M122.2 386.5h.6M120.4 387.7h.6M116.2 383.8h.6M104.2 386.4h.6M101.6 386.1h.6M107.7 383.2h.6M127.1 383.2h.6M94.1 386.3h.6M120.3 384.9h.6M111.4 382.7h.6M98.0 386.6h.6M118.2 385.8h.6M114.7 388.2h.6M125.3 384.3h.6M120.0 383.5h.6M114.4 383.4h.6M120.6 388.0h.6M93.4 385.1h.6M100.5 386.3h.6M95.3 392.3h.6M93.9 389.5h.6M122.9 386.6h.6M99.6 387.0h.6M123.3 382.4h.6M96.9 387.6h.6M122.4 385.7h.6M110.6 387.1h.6M120.4 385.2h.6M125.3 387.3h.6M101.5 388.7h.6M113.8 387.1h.6M101.1 385.0h.6M101.4 384.6h.6M110.6 388.4h.6M117.4 384.0h.6M125.7 383.9h.6M116.0 388.4h.6M115.5 388.7h.6M121.3 384.6h.6M121.3 386.2h.6M125.0 383.5h.6M127.3 385.8h.6M93.5 389.7h.6M101.7 384.0h.6M108.5 384.2h.6M126.4 385.7h.6M107.1 387.6h.6M127.5 387.0h.6M98.1 384.8h.6M126.6 384.3h.6M113.4 386.5h.6M96.9 381.3h.6M109.7 388.1h.6M118.8 383.8h.6M109.4 386.3h.6M114.6 383.8h.6M124.7 385.5h.6M103.9 385.3h.6M122.1 388.2h.6M110.2 384.3h.6M103.9 385.0h.6M125.6 385.5h.6M120.5 385.7h.6M111.0 386.2h.6M102.0 387.8h.6M111.9 390.1h.6M114.5 382.9h.6M110.2 387.1h.6M111.6 381.7h.6M126.8 385.7h.6M108.8 383.0h.6" stroke="#6a8fc8" stroke-opacity="0.3" stroke-width="0.9" stroke-linecap="round"/>
<path d="M111.6 387.8h.6M110.7 387.0h.6M100.4 383.5h.6M93.8 390.1h.6M120.8 382.8h.6M98.0 388.9h.6M99.3 390.2h.6M108.3 383.3h.6M110.7 385.3h.6M112.8 386.4h.6M113.3 385.4h.6M94.5 387.4h.6M93.4 389.0h.6M106.1 386.9h.6M107.9 383.6h.6M128.0 388.0h.6M109.7 386.9h.6M93.5 387.1h.6M127.9 387.2h.6M109.9 387.4h.6M120.3 387.0h.6M114.8 384.6h.6M102.7 384.9h.6M100.5 386.8h.6M114.4 384.8h.6M121.4 386.2h.6M124.2 386.2h.6M123.4 384.8h.6M112.8 386.4h.6M99.8 386.4h.6M109.9 387.0h.6M97.8 384.6h.6M109.4 384.3h.6M127.8 386.4h.6M125.3 385.3h.6M96.1 385.3h.6M124.2 382.0h.6M111.4 385.3h.6M122.6 386.4h.6M100.8 384.3h.6M98.8 384.8h.6M114.2 387.3h.6M106.6 389.7h.6M118.1 382.8h.6M127.0 385.9h.6M127.0 385.9h.6M125.9 383.3h.6M114.3 387.3h.6M112.2 386.2h.6M107.1 385.8h.6M122.4 381.5h.6M109.5 386.6h.6M110.5 384.8h.6M95.2 388.7h.6M97.2 384.0h.6M93.5 390.8h.6M125.7 384.8h.6M96.0 388.1h.6M127.3 384.3h.6M94.7 382.1h.6M121.0 387.6h.6M115.5 388.9h.6M107.8 382.5h.6M108.6 386.4h.6M120.1 386.0h.6M111.3 385.7h.6M95.8 387.6h.6M125.2 384.7h.6M99.6 384.6h.6M108.9 388.3h.6M102.7 389.0h.6M109.7 384.6h.6M111.8 388.6h.6M95.7 389.0h.6M95.6 387.4h.6M103.1 388.8h.6" stroke="#4a72ad" stroke-opacity="0.3" stroke-width="0.9" stroke-linecap="round"/>
<path d="M97.1 384.3h.6M104.6 385.2h.6M105.7 387.1h.6M93.7 390.2h.6M122.2 385.3h.6M101.4 386.1h.6M127.8 385.4h.6M102.7 388.1h.6M99.7 386.6h.6M118.3 385.1h.6M106.1 385.7h.6M115.7 386.7h.6M102.1 390.5h.6M107.5 387.0h.6M98.5 389.8h.6M118.2 383.8h.6M99.6 387.4h.6M96.1 384.6h.6M112.4 385.3h.6M99.4 385.2h.6M103.2 385.5h.6M120.9 385.3h.6M99.6 387.8h.6M114.1 384.0h.6M104.9 382.4h.6M100.1 385.7h.6M98.4 386.9h.6M116.5 387.3h.6M115.4 384.5h.6M94.6 384.6h.6M105.1 386.1h.6M109.1 385.3h.6M111.5 386.1h.6M94.2 388.7h.6M113.5 385.8h.6M98.5 388.0h.6M104.7 385.9h.6M98.6 386.6h.6M100.2 387.7h.6M118.1 386.9h.6M115.6 384.4h.6M121.9 383.7h.6M119.5 384.5h.6M126.5 384.2h.6M96.2 386.2h.6M93.3 386.2h.6M100.1 387.6h.6M124.9 385.9h.6M106.0 387.8h.6M96.9 387.3h.6M97.6 386.2h.6M123.7 387.2h.6M114.2 385.9h.6M127.9 386.4h.6M105.3 387.1h.6M94.3 386.2h.6M102.4 382.8h.6M108.5 387.0h.6M117.8 386.4h.6M115.6 386.3h.6M121.5 387.1h.6M99.1 386.8h.6M100.4 385.0h.6M108.9 387.7h.6M127.3 385.9h.6M100.3 389.0h.6M113.2 387.2h.6M115.8 387.6h.6M116.5 387.5h.6M102.2 385.0h.6M120.1 385.7h.6M104.1 387.1h.6M98.1 389.8h.6M96.7 386.4h.6M120.6 385.4h.6M96.2 387.9h.6M101.4 387.7h.6" stroke="#5a86a8" stroke-opacity="0.3" stroke-width="0.9" stroke-linecap="round"/>
<path d="M98.2 363.7h.4M97.3 379.0h.4M122.5 370.6h.4M118.8 375.0h.4M113.5 379.1h.4M111.4 378.4h.4M119.1 380.0h.4M99.8 379.9h.4M114.0 371.3h.4M94.9 360.6h.4M124.9 375.3h.4M100.5 365.3h.4M130.0 378.5h.4M122.0 364.4h.4M128.5 378.2h.4M99.1 380.4h.4M103.1 362.9h.4M127.6 373.2h.4M99.4 377.3h.4M103.5 370.2h.4M120.7 365.7h.4M110.5 374.5h.4M111.6 376.3h.4M111.2 368.8h.4M120.4 376.6h.4M115.2 379.8h.4M96.4 376.8h.4M107.7 381.3h.4M97.7 375.9h.4M128.7 363.4h.4M95.9 378.2h.4M108.1 377.6h.4M99.7 371.9h.4M125.0 375.3h.4M101.1 381.0h.4M95.3 367.4h.4M103.1 368.1h.4M123.3 380.0h.4M101.6 377.9h.4M122.5 366.7h.4M105.7 374.9h.4M107.6 374.3h.4M123.4 377.6h.4M124.0 361.1h.4M116.4 360.3h.4M128.6 378.7h.4M130.5 378.2h.4M123.8 379.6h.4M105.7 375.1h.4M125.0 368.1h.4M102.1 363.0h.4M126.0 372.4h.4M96.6 378.7h.4M105.3 375.6h.4M128.7 370.2h.4M124.3 380.1h.4M103.6 367.9h.4M107.1 379.1h.4M97.1 381.8h.4M109.6 372.4h.4" stroke="#a9bbe0" stroke-opacity="0.35" stroke-width="0.7" stroke-linecap="round"/>
<ellipse cx="93.10" cy="387.15" rx="3.6" ry="5.5" fill="#5f93c4" fill-opacity="0.6"/>
<ellipse cx="93.10" cy="387.15" rx="2.4" ry="3.4" fill="#7fb04a"/>
<ellipse cx="93.10" cy="387.15" rx="1.5" ry="2.2" fill="#e0c81e"/>
<ellipse cx="93.10" cy="387.15" rx="0.7" ry="1.1" fill="#e08a1e"/>
<rect x="100.50" y="367.00" width="36.50" height="29.00" fill="none" stroke="#555" stroke-width="0.6"/>
<rect x="109.15" y="366.00" width="19.2" height="2" fill="#fff"/>
<text x="108.95" y="358.60" font-size="6.6" fill="#222" textLength="19.60" lengthAdjust="spacingAndGlyphs">EGFR+</text>
<text x="112.55" y="365.60" font-size="6.6" fill="#222" textLength="12.40" lengthAdjust="spacingAndGlyphs">46.2</text>
<line x1="77.80" y1="338.90" x2="77.80" y2="399.80" stroke="#666" stroke-width="0.8" stroke-dasharray="0.9,0.7"/>
<line x1="77.80" y1="399.80" x2="138.80" y2="399.80" stroke="#555" stroke-width="0.8"/>
<line x1="75.60" y1="398.70" x2="77.80" y2="398.70" stroke="#333" stroke-width="0.7"/>
<text x="74.40" y="400.80" font-size="6.3" fill="#2a2a2a" text-anchor="end">0</text>
<line x1="75.60" y1="387.15" x2="77.80" y2="387.15" stroke="#333" stroke-width="0.7"/>
<text x="74.40" y="389.25" font-size="6.3" fill="#2a2a2a" text-anchor="end">50 K</text>
<line x1="75.60" y1="375.60" x2="77.80" y2="375.60" stroke="#333" stroke-width="0.7"/>
<text x="74.40" y="377.70" font-size="6.3" fill="#2a2a2a" text-anchor="end">100 K</text>
<line x1="75.60" y1="364.05" x2="77.80" y2="364.05" stroke="#333" stroke-width="0.7"/>
<text x="74.40" y="366.15" font-size="6.3" fill="#2a2a2a" text-anchor="end">150 K</text>
<line x1="75.60" y1="352.50" x2="77.80" y2="352.50" stroke="#333" stroke-width="0.7"/>
<text x="74.40" y="354.60" font-size="6.3" fill="#2a2a2a" text-anchor="end">200 K</text>
<line x1="75.60" y1="340.95" x2="77.80" y2="340.95" stroke="#333" stroke-width="0.7"/>
<text x="74.40" y="343.05" font-size="6.3" fill="#2a2a2a" text-anchor="end">250 K</text>
<line x1="81.30" y1="399.80" x2="81.30" y2="401.30" stroke="#333" stroke-width="0.7"/>
<g transform="translate(82.80,410.30) rotate(-45)"><text x="0" y="0" font-size="6.2" fill="#222" text-anchor="middle">−10<tspan font-size="4.8" dy="-2.2">3</tspan></text></g>
<line x1="91.80" y1="399.80" x2="91.80" y2="401.30" stroke="#333" stroke-width="0.7"/>
<g transform="translate(93.30,410.30) rotate(-45)"><text x="0" y="0" font-size="6.2" fill="#222" text-anchor="middle">0</text></g>
<line x1="101.20" y1="399.80" x2="101.20" y2="401.30" stroke="#333" stroke-width="0.7"/>
<g transform="translate(102.70,410.30) rotate(-45)"><text x="0" y="0" font-size="6.2" fill="#222" text-anchor="middle">10<tspan font-size="4.8" dy="-2.2">3</tspan></text></g>
<line x1="118.30" y1="399.80" x2="118.30" y2="401.30" stroke="#333" stroke-width="0.7"/>
<g transform="translate(119.80,410.30) rotate(-45)"><text x="0" y="0" font-size="6.2" fill="#222" text-anchor="middle">10<tspan font-size="4.8" dy="-2.2">4</tspan></text></g>
<line x1="133.30" y1="399.80" x2="133.30" y2="401.30" stroke="#333" stroke-width="0.7"/>
<g transform="translate(134.80,410.30) rotate(-45)"><text x="0" y="0" font-size="6.2" fill="#222" text-anchor="middle">10<tspan font-size="4.8" dy="-2.2">5</tspan></text></g>
<line x1="90.10" y1="399.80" x2="93.40" y2="399.80" stroke="#111" stroke-width="1.5"/>
<path d="M178.50,338.90 H239.50 V398.70" fill="none" stroke="#999" stroke-width="0.7"/>
<path d="M194.00,381.65 C206.50,380.15 220.50,378.65 229.50,381.65 L229.50,385.65 C220.50,387.65 206.50,392.15 194.00,392.65 Z" fill="#b4c4e6" fill-opacity="0.6" filter="url(#bl)"/>
<path d="M194.00,383.95 C204.50,383.35 214.50,382.25 222.50,383.55 L222.50,386.55 C214.50,387.95 204.50,390.35 194.00,390.55 Z" fill="#6f8fc4" fill-opacity="0.5" filter="url(#bl)"/>
<path d="M206.2 384.7h.6M208.2 385.5h.6M214.3 386.0h.6M202.7 386.2h.6M211.1 384.7h.6M215.5 387.9h.6M203.0 386.7h.6M224.2 385.6h.6M226.4 386.0h.6M205.7 383.7h.6M213.3 385.7h.6M226.3 388.0h.6M217.5 383.7h.6M203.2 387.5h.6M228.6 385.3h.6M215.6 386.6h.6M212.7 386.6h.6M215.8 384.6h.6M201.3 389.6h.6M198.7 386.8h.6M223.0 386.5h.6M219.2 385.8h.6M217.0 383.9h.6M218.1 386.4h.6M216.5 384.9h.6M228.5 384.9h.6M213.1 390.0h.6M214.0 384.8h.6M204.4 388.1h.6M213.7 385.7h.6M205.0 383.1h.6M213.2 383.5h.6M206.1 386.2h.6M206.0 384.3h.6M196.2 384.7h.6M199.4 385.1h.6M195.3 388.6h.6M220.1 387.6h.6M203.4 384.0h.6M205.0 387.3h.6M201.8 387.0h.6M203.0 390.6h.6M225.6 387.3h.6M211.3 387.9h.6M216.6 390.1h.6M223.7 385.5h.6M201.5 387.5h.6M200.9 383.5h.6M209.3 381.2h.6M197.2 387.9h.6M199.8 387.9h.6M222.3 381.5h.6M197.6 389.9h.6M224.6 383.4h.6M221.3 385.9h.6M212.3 388.1h.6M209.9 382.0h.6M226.9 387.0h.6M196.7 387.6h.6M214.7 382.7h.6M199.7 386.9h.6M198.1 389.9h.6M199.1 387.1h.6M221.0 384.9h.6M201.0 387.1h.6M223.9 384.7h.6M202.6 389.8h.6M207.6 385.3h.6M198.8 387.0h.6M216.6 385.0h.6M226.3 384.9h.6M199.0 387.0h.6M223.1 385.7h.6M211.5 384.7h.6M210.2 385.3h.6M223.8 384.0h.6M214.0 389.6h.6" stroke="#4a72ad" stroke-opacity="0.3" stroke-width="0.9" stroke-linecap="round"/>
<path d="M204.0 384.3h.6M194.4 388.8h.6M225.3 387.2h.6M198.4 385.6h.6M224.8 385.2h.6M206.5 384.6h.6M195.8 389.1h.6M209.0 385.7h.6M196.8 389.1h.6M208.3 384.4h.6M215.6 383.7h.6M224.9 385.9h.6M219.0 385.9h.6M226.0 384.4h.6M199.5 386.6h.6M219.6 387.6h.6M197.9 384.3h.6M198.7 387.4h.6M223.0 384.9h.6M227.4 387.2h.6M194.1 388.8h.6M206.0 386.0h.6M210.6 385.8h.6M211.0 387.8h.6M228.8 386.1h.6M222.1 387.0h.6M197.5 388.5h.6M210.1 385.4h.6M216.0 385.7h.6M208.1 387.7h.6M221.5 384.8h.6M209.6 385.4h.6M210.7 386.6h.6M222.4 384.6h.6M216.8 385.6h.6M209.3 386.7h.6M205.8 387.3h.6M206.9 382.7h.6M199.6 386.0h.6M195.6 387.8h.6M200.3 388.0h.6M211.4 388.3h.6M210.1 384.9h.6M197.6 392.1h.6M207.8 388.2h.6M208.8 388.0h.6M219.9 385.5h.6M219.4 388.8h.6M219.4 386.5h.6M221.8 385.3h.6M195.5 387.8h.6M216.5 383.3h.6M195.5 387.9h.6M196.3 387.4h.6M212.0 384.4h.6M204.3 389.3h.6M196.5 387.2h.6M201.9 385.4h.6M203.6 388.1h.6M213.6 384.7h.6M226.1 387.5h.6M216.6 386.7h.6M213.9 382.5h.6M210.0 383.6h.6M202.4 388.3h.6M198.2 387.1h.6M217.4 381.1h.6M218.9 387.9h.6M198.9 385.3h.6M196.2 386.3h.6M194.1 392.5h.6M195.8 386.2h.6M227.9 386.2h.6" stroke="#6a8fc8" stroke-opacity="0.3" stroke-width="0.9" stroke-linecap="round"/>
<path d="M221.2 386.4h.6M194.5 390.6h.6M204.3 386.5h.6M224.8 383.3h.6M197.7 385.0h.6M222.5 389.9h.6M221.8 385.9h.6M211.1 385.5h.6M194.1 388.0h.6M196.8 386.4h.6M218.4 389.8h.6M221.3 387.2h.6M211.5 384.5h.6M227.2 383.2h.6M224.3 383.3h.6M222.6 386.1h.6M224.8 387.3h.6M222.5 388.6h.6M216.3 389.7h.6M220.2 380.3h.6M214.0 383.3h.6M220.0 387.7h.6M211.8 386.7h.6M195.5 389.3h.6M204.1 386.3h.6M224.8 384.8h.6M213.9 388.2h.6M227.1 385.9h.6M201.0 390.2h.6M221.9 390.7h.6M224.6 382.0h.6M201.2 387.1h.6M196.5 388.1h.6M218.1 385.4h.6M194.0 387.4h.6M209.6 384.6h.6M216.4 388.1h.6M206.7 388.6h.6M220.0 383.9h.6M225.8 385.9h.6M198.4 389.9h.6M198.2 387.1h.6M211.0 386.5h.6M214.2 386.2h.6M195.1 386.5h.6M223.1 384.2h.6M199.6 383.8h.6M211.0 388.2h.6M211.1 385.0h.6M206.8 387.4h.6M223.0 385.7h.6M205.8 387.7h.6M208.0 386.1h.6M204.3 386.5h.6M194.5 386.9h.6M208.0 384.1h.6M223.7 386.7h.6M222.4 382.2h.6M202.9 383.1h.6M195.5 384.3h.6M214.2 381.5h.6M216.5 387.7h.6M222.1 382.7h.6M225.7 382.1h.6M194.4 386.5h.6M226.7 385.9h.6M206.5 387.6h.6M225.5 385.3h.6M219.5 385.4h.6M199.9 391.4h.6M203.1 387.0h.6M224.4 387.9h.6M228.2 385.2h.6M212.7 386.1h.6M223.6 390.8h.6M207.4 384.9h.6M216.4 383.5h.6M220.6 384.3h.6M226.9 384.6h.6M194.1 386.3h.6M198.6 385.5h.6M218.5 385.3h.6M219.6 381.6h.6M228.3 379.6h.6M196.1 390.2h.6M220.4 382.7h.6M222.6 386.6h.6M223.4 383.4h.6M198.8 387.9h.6M220.8 385.2h.6" stroke="#5a86a8" stroke-opacity="0.3" stroke-width="0.9" stroke-linecap="round"/>
<path d="M210.8 379.5h.4M231.1 367.8h.4M207.8 373.3h.4M216.7 361.6h.4M204.1 377.2h.4M213.3 374.7h.4M203.0 379.3h.4M208.1 363.0h.4M212.3 370.0h.4M218.4 361.0h.4M201.9 371.1h.4M220.0 367.7h.4M208.5 375.1h.4M231.0 372.5h.4M231.2 369.7h.4M217.9 375.7h.4M231.4 374.7h.4M210.7 380.1h.4M228.4 374.0h.4M203.9 380.4h.4M202.5 377.1h.4M199.9 373.5h.4M227.0 361.4h.4M230.4 364.8h.4M228.9 379.5h.4M212.1 360.5h.4M207.3 369.0h.4M209.6 374.2h.4M225.1 369.8h.4M221.7 378.1h.4M199.3 381.8h.4M217.1 373.7h.4M208.5 368.0h.4M210.4 375.2h.4M203.6 380.3h.4M222.6 373.2h.4M203.9 381.4h.4M217.6 380.6h.4M207.4 376.0h.4M199.2 381.9h.4M229.0 377.3h.4M227.2 380.3h.4M204.2 374.3h.4M202.6 370.8h.4M204.5 367.6h.4M231.2 362.8h.4M199.4 381.7h.4M196.6 363.5h.4M224.1 370.6h.4M207.3 374.6h.4M226.6 371.3h.4M203.9 368.3h.4M202.6 367.5h.4M211.0 372.8h.4M196.2 366.0h.4M226.4 379.9h.4M203.5 370.9h.4M204.6 381.6h.4M208.9 362.0h.4M221.9 368.4h.4" stroke="#a9bbe0" stroke-opacity="0.35" stroke-width="0.7" stroke-linecap="round"/>
<ellipse cx="193.80" cy="387.15" rx="3.6" ry="5.5" fill="#5f93c4" fill-opacity="0.6"/>
<ellipse cx="193.80" cy="387.15" rx="2.4" ry="3.4" fill="#7fb04a"/>
<ellipse cx="193.80" cy="387.15" rx="1.5" ry="2.2" fill="#e0c81e"/>
<ellipse cx="193.80" cy="387.15" rx="0.7" ry="1.1" fill="#e08a1e"/>
<rect x="200.80" y="367.00" width="36.50" height="29.00" fill="none" stroke="#555" stroke-width="0.6"/>
<rect x="209.45" y="366.00" width="19.2" height="2" fill="#fff"/>
<text x="209.25" y="358.60" font-size="6.6" fill="#222" textLength="19.60" lengthAdjust="spacingAndGlyphs">EGFR+</text>
<text x="212.85" y="365.60" font-size="6.6" fill="#222" textLength="12.40" lengthAdjust="spacingAndGlyphs">48.4</text>
<line x1="178.50" y1="338.90" x2="178.50" y2="399.80" stroke="#666" stroke-width="0.8" stroke-dasharray="0.9,0.7"/>
<line x1="178.50" y1="399.80" x2="239.50" y2="399.80" stroke="#555" stroke-width="0.8"/>
<line x1="176.30" y1="398.70" x2="178.50" y2="398.70" stroke="#333" stroke-width="0.7"/>
<text x="175.10" y="400.80" font-size="6.3" fill="#2a2a2a" text-anchor="end">0</text>
<line x1="176.30" y1="387.15" x2="178.50" y2="387.15" stroke="#333" stroke-width="0.7"/>
<text x="175.10" y="389.25" font-size="6.3" fill="#2a2a2a" text-anchor="end">50 K</text>
<line x1="176.30" y1="375.60" x2="178.50" y2="375.60" stroke="#333" stroke-width="0.7"/>
<text x="175.10" y="377.70" font-size="6.3" fill="#2a2a2a" text-anchor="end">100 K</text>
<line x1="176.30" y1="364.05" x2="178.50" y2="364.05" stroke="#333" stroke-width="0.7"/>
<text x="175.10" y="366.15" font-size="6.3" fill="#2a2a2a" text-anchor="end">150 K</text>
<line x1="176.30" y1="352.50" x2="178.50" y2="352.50" stroke="#333" stroke-width="0.7"/>
<text x="175.10" y="354.60" font-size="6.3" fill="#2a2a2a" text-anchor="end">200 K</text>
<line x1="176.30" y1="340.95" x2="178.50" y2="340.95" stroke="#333" stroke-width="0.7"/>
<text x="175.10" y="343.05" font-size="6.3" fill="#2a2a2a" text-anchor="end">250 K</text>
<line x1="182.00" y1="399.80" x2="182.00" y2="401.30" stroke="#333" stroke-width="0.7"/>
<g transform="translate(183.50,410.30) rotate(-45)"><text x="0" y="0" font-size="6.2" fill="#222" text-anchor="middle">−10<tspan font-size="4.8" dy="-2.2">3</tspan></text></g>
<line x1="192.50" y1="399.80" x2="192.50" y2="401.30" stroke="#333" stroke-width="0.7"/>
<g transform="translate(194.00,410.30) rotate(-45)"><text x="0" y="0" font-size="6.2" fill="#222" text-anchor="middle">0</text></g>
<line x1="201.90" y1="399.80" x2="201.90" y2="401.30" stroke="#333" stroke-width="0.7"/>
<g transform="translate(203.40,410.30) rotate(-45)"><text x="0" y="0" font-size="6.2" fill="#222" text-anchor="middle">10<tspan font-size="4.8" dy="-2.2">3</tspan></text></g>
<line x1="219.00" y1="399.80" x2="219.00" y2="401.30" stroke="#333" stroke-width="0.7"/>
<g transform="translate(220.50,410.30) rotate(-45)"><text x="0" y="0" font-size="6.2" fill="#222" text-anchor="middle">10<tspan font-size="4.8" dy="-2.2">4</tspan></text></g>
<line x1="234.00" y1="399.80" x2="234.00" y2="401.30" stroke="#333" stroke-width="0.7"/>
<g transform="translate(235.50,410.30) rotate(-45)"><text x="0" y="0" font-size="6.2" fill="#222" text-anchor="middle">10<tspan font-size="4.8" dy="-2.2">5</tspan></text></g>
<line x1="190.80" y1="399.80" x2="194.10" y2="399.80" stroke="#111" stroke-width="1.5"/>
<path d="M278.30,338.90 H339.30 V398.70" fill="none" stroke="#999" stroke-width="0.7"/>
<path d="M293.80,381.65 C306.30,380.15 320.30,378.65 329.30,381.65 L329.30,385.65 C320.30,387.65 306.30,392.15 293.80,392.65 Z" fill="#b4c4e6" fill-opacity="0.6" filter="url(#bl)"/>
<path d="M293.80,383.95 C304.30,383.35 314.30,382.25 322.30,383.55 L322.30,386.55 C314.30,387.95 304.30,390.35 293.80,390.55 Z" fill="#6f8fc4" fill-opacity="0.5" filter="url(#bl)"/>
<path d="M301.2 393.2h.6M310.5 388.0h.6M322.7 385.8h.6M317.6 383.1h.6M325.0 384.3h.6M327.4 385.5h.6M294.8 384.2h.6M302.1 387.2h.6M307.7 388.1h.6M315.2 387.5h.6M307.0 387.9h.6M295.4 387.5h.6M302.2 385.9h.6M313.3 384.5h.6M295.3 388.6h.6M294.8 385.3h.6M311.4 386.0h.6M302.6 385.4h.6M298.0 385.8h.6M309.4 385.5h.6M327.6 387.3h.6M307.7 386.0h.6M305.6 386.9h.6M317.5 382.1h.6M319.0 384.5h.6M324.9 382.8h.6M314.1 386.4h.6M320.3 385.2h.6M325.3 385.9h.6M310.1 388.9h.6M308.0 381.9h.6M306.8 389.7h.6M317.0 387.4h.6M305.7 384.7h.6M318.5 387.2h.6M308.2 383.4h.6M301.6 390.3h.6M319.8 383.3h.6M319.3 387.0h.6M327.1 387.5h.6M315.1 386.3h.6M313.8 380.0h.6M309.0 388.1h.6M313.5 385.6h.6M310.7 391.3h.6M304.6 383.0h.6M316.0 389.8h.6M319.4 382.0h.6M303.9 385.6h.6M328.4 385.3h.6M302.5 388.3h.6M295.8 384.5h.6M306.0 385.8h.6M316.9 388.5h.6M306.8 386.8h.6M295.1 384.8h.6M318.3 384.6h.6M312.7 382.5h.6M308.9 385.2h.6M314.6 387.0h.6M313.2 384.9h.6M326.5 383.6h.6M308.4 385.5h.6M314.1 387.9h.6M318.3 384.4h.6M304.4 386.7h.6M320.0 383.8h.6M321.2 388.0h.6M307.0 386.2h.6M325.8 384.1h.6" stroke="#6a8fc8" stroke-opacity="0.3" stroke-width="0.9" stroke-linecap="round"/>
<path d="M297.0 387.3h.6M300.8 384.3h.6M310.3 385.5h.6M320.2 383.3h.6M307.0 386.4h.6M308.8 386.1h.6M300.0 387.1h.6M314.6 383.6h.6M312.5 383.7h.6M328.2 386.6h.6M325.0 382.6h.6M298.4 385.2h.6M293.9 388.9h.6M312.3 386.3h.6M321.2 385.3h.6M312.7 383.4h.6M299.6 386.5h.6M304.2 384.8h.6M309.4 384.1h.6M319.6 384.7h.6M326.3 383.3h.6M295.4 381.7h.6M302.3 384.2h.6M308.4 387.2h.6M297.3 390.8h.6M294.7 389.8h.6M305.6 387.7h.6M313.6 383.9h.6M303.5 383.6h.6M307.0 390.7h.6M325.3 387.0h.6M306.5 389.3h.6M321.8 382.8h.6M317.9 382.8h.6M322.7 385.5h.6M306.7 388.0h.6M316.0 386.2h.6M302.5 385.9h.6M328.8 386.1h.6M298.4 388.1h.6M320.2 386.6h.6M311.0 384.3h.6M323.9 382.6h.6M306.3 384.5h.6M310.5 387.6h.6M327.6 385.4h.6M319.7 383.9h.6M309.8 384.9h.6M308.0 386.7h.6M294.7 387.3h.6M295.2 388.0h.6M297.5 389.0h.6M327.1 385.1h.6M298.8 386.6h.6M314.1 386.4h.6M319.0 388.7h.6M305.4 388.8h.6M312.3 384.6h.6M315.1 387.5h.6M313.3 382.2h.6M326.5 382.2h.6M294.4 389.1h.6M311.8 384.5h.6M295.9 389.1h.6M305.1 391.6h.6M318.4 385.1h.6M296.1 387.7h.6M326.5 385.6h.6M320.2 386.5h.6M308.7 388.1h.6M313.1 386.3h.6M299.8 389.2h.6M309.9 387.6h.6M302.3 385.8h.6M294.6 385.5h.6M298.6 389.7h.6M320.5 384.6h.6M314.2 383.6h.6M295.1 388.7h.6M297.6 385.8h.6M322.3 385.3h.6M313.2 388.7h.6M316.7 388.1h.6" stroke="#5a86a8" stroke-opacity="0.3" stroke-width="0.9" stroke-linecap="round"/>
<path d="M319.8 384.7h.6M302.6 388.6h.6M308.1 382.4h.6M318.1 385.9h.6M295.4 387.5h.6M308.4 389.9h.6M320.9 383.7h.6M300.1 385.0h.6M304.8 386.7h.6M300.8 389.4h.6M314.6 387.6h.6M311.4 384.3h.6M294.0 386.6h.6M295.6 389.7h.6M320.5 385.5h.6M322.2 383.7h.6M324.9 387.8h.6M312.5 386.9h.6M310.5 385.9h.6M322.6 380.4h.6M299.2 384.6h.6M318.2 386.5h.6M304.7 387.6h.6M301.4 385.0h.6M308.1 385.3h.6M304.8 385.0h.6M295.6 384.5h.6M314.5 387.0h.6M326.2 384.2h.6M304.2 388.3h.6M295.2 386.8h.6M294.9 388.0h.6M296.7 389.8h.6M309.0 383.1h.6M309.8 384.1h.6M316.6 385.5h.6M310.6 385.2h.6M297.3 386.7h.6M308.0 388.9h.6M302.4 386.5h.6M320.7 384.3h.6M295.2 389.4h.6M305.5 386.7h.6M309.2 387.2h.6M305.6 383.5h.6M316.6 387.8h.6M301.6 383.1h.6M310.0 385.0h.6M315.2 386.5h.6M308.6 389.5h.6M308.1 388.9h.6M313.3 386.8h.6M296.6 386.6h.6M300.3 389.2h.6M319.7 386.8h.6M294.0 388.2h.6M318.3 385.8h.6M308.0 384.6h.6M327.6 387.1h.6M308.4 383.1h.6M312.8 386.9h.6M327.6 386.4h.6M303.3 385.6h.6M325.9 383.3h.6M320.3 381.8h.6M321.8 385.4h.6M314.4 384.5h.6M308.8 392.2h.6M304.3 390.3h.6M302.5 388.8h.6M307.1 385.3h.6M307.9 388.8h.6M295.7 387.9h.6M304.5 386.1h.6M319.3 383.1h.6M295.5 384.5h.6M294.0 383.1h.6M308.1 385.0h.6M317.1 385.9h.6M306.4 384.5h.6M301.0 384.6h.6M313.4 384.0h.6M321.1 385.3h.6M298.7 386.9h.6M308.9 386.2h.6M309.5 386.7h.6M308.5 384.4h.6" stroke="#4a72ad" stroke-opacity="0.3" stroke-width="0.9" stroke-linecap="round"/>
<path d="M314.5 361.0h.4M306.1 379.7h.4M313.3 377.3h.4M321.0 369.6h.4M295.4 380.0h.4M317.6 375.4h.4M319.8 373.7h.4M299.3 369.3h.4M330.3 379.6h.4M317.5 370.3h.4M317.4 373.0h.4M313.5 359.5h.4M326.7 374.1h.4M324.6 368.5h.4M324.3 358.6h.4M297.9 379.9h.4M303.7 365.4h.4M328.6 377.9h.4M312.8 362.7h.4M321.3 370.8h.4M327.5 360.8h.4M298.6 361.1h.4M305.8 371.0h.4M322.4 377.1h.4M306.3 362.6h.4M323.8 359.3h.4M298.7 371.1h.4M321.9 360.1h.4M321.4 377.4h.4M298.9 380.4h.4M304.6 372.2h.4M306.9 380.2h.4M298.4 369.5h.4M324.6 379.6h.4M313.8 359.8h.4M308.3 372.8h.4M324.5 380.4h.4M326.7 365.4h.4M321.8 376.3h.4M313.0 361.1h.4M297.5 381.5h.4M318.3 360.4h.4M300.7 380.1h.4M311.9 365.8h.4M315.6 369.2h.4M297.2 380.1h.4M316.4 367.4h.4M298.6 381.4h.4M306.6 375.6h.4M307.3 379.9h.4M298.0 370.6h.4M329.6 369.1h.4M328.4 379.3h.4M317.5 376.1h.4M325.8 370.3h.4M317.4 361.7h.4M329.7 379.1h.4M311.1 380.7h.4M315.5 378.7h.4M320.4 376.1h.4" stroke="#a9bbe0" stroke-opacity="0.35" stroke-width="0.7" stroke-linecap="round"/>
<ellipse cx="293.60" cy="387.15" rx="3.6" ry="5.5" fill="#5f93c4" fill-opacity="0.6"/>
<ellipse cx="293.60" cy="387.15" rx="2.4" ry="3.4" fill="#7fb04a"/>
<ellipse cx="293.60" cy="387.15" rx="1.5" ry="2.2" fill="#e0c81e"/>
<ellipse cx="293.60" cy="387.15" rx="0.7" ry="1.1" fill="#e08a1e"/>
<rect x="298.30" y="370.20" width="38.10" height="26.40" fill="none" stroke="#555" stroke-width="0.6"/>
<rect x="307.75" y="369.20" width="19.2" height="2" fill="#fff"/>
<text x="307.55" y="361.40" font-size="6.6" fill="#222" textLength="19.60" lengthAdjust="spacingAndGlyphs">EGFR+</text>
<text x="311.15" y="369.00" font-size="6.6" fill="#222" textLength="12.40" lengthAdjust="spacingAndGlyphs">40.8</text>
<line x1="278.30" y1="338.90" x2="278.30" y2="399.80" stroke="#666" stroke-width="0.8" stroke-dasharray="0.9,0.7"/>
<line x1="278.30" y1="399.80" x2="339.30" y2="399.80" stroke="#555" stroke-width="0.8"/>
<line x1="276.10" y1="398.70" x2="278.30" y2="398.70" stroke="#333" stroke-width="0.7"/>
<text x="274.90" y="400.80" font-size="6.3" fill="#2a2a2a" text-anchor="end">0</text>
<line x1="276.10" y1="387.15" x2="278.30" y2="387.15" stroke="#333" stroke-width="0.7"/>
<text x="274.90" y="389.25" font-size="6.3" fill="#2a2a2a" text-anchor="end">50 K</text>
<line x1="276.10" y1="375.60" x2="278.30" y2="375.60" stroke="#333" stroke-width="0.7"/>
<text x="274.90" y="377.70" font-size="6.3" fill="#2a2a2a" text-anchor="end">100 K</text>
<line x1="276.10" y1="364.05" x2="278.30" y2="364.05" stroke="#333" stroke-width="0.7"/>
<text x="274.90" y="366.15" font-size="6.3" fill="#2a2a2a" text-anchor="end">150 K</text>
<line x1="276.10" y1="352.50" x2="278.30" y2="352.50" stroke="#333" stroke-width="0.7"/>
<text x="274.90" y="354.60" font-size="6.3" fill="#2a2a2a" text-anchor="end">200 K</text>
<line x1="276.10" y1="340.95" x2="278.30" y2="340.95" stroke="#333" stroke-width="0.7"/>
<text x="274.90" y="343.05" font-size="6.3" fill="#2a2a2a" text-anchor="end">250 K</text>
<line x1="281.80" y1="399.80" x2="281.80" y2="401.30" stroke="#333" stroke-width="0.7"/>
<g transform="translate(283.30,410.30) rotate(-45)"><text x="0" y="0" font-size="6.2" fill="#222" text-anchor="middle">−10<tspan font-size="4.8" dy="-2.2">3</tspan></text></g>
<line x1="292.30" y1="399.80" x2="292.30" y2="401.30" stroke="#333" stroke-width="0.7"/>
<g transform="translate(293.80,410.30) rotate(-45)"><text x="0" y="0" font-size="6.2" fill="#222" text-anchor="middle">0</text></g>
<line x1="301.70" y1="399.80" x2="301.70" y2="401.30" stroke="#333" stroke-width="0.7"/>
<g transform="translate(303.20,410.30) rotate(-45)"><text x="0" y="0" font-size="6.2" fill="#222" text-anchor="middle">10<tspan font-size="4.8" dy="-2.2">3</tspan></text></g>
<line x1="318.80" y1="399.80" x2="318.80" y2="401.30" stroke="#333" stroke-width="0.7"/>
<g transform="translate(320.30,410.30) rotate(-45)"><text x="0" y="0" font-size="6.2" fill="#222" text-anchor="middle">10<tspan font-size="4.8" dy="-2.2">4</tspan></text></g>
<line x1="333.80" y1="399.80" x2="333.80" y2="401.30" stroke="#333" stroke-width="0.7"/>
<g transform="translate(335.30,410.30) rotate(-45)"><text x="0" y="0" font-size="6.2" fill="#222" text-anchor="middle">10<tspan font-size="4.8" dy="-2.2">5</tspan></text></g>
<line x1="290.60" y1="399.80" x2="293.90" y2="399.80" stroke="#111" stroke-width="1.5"/>
<path d="M378.90,338.90 H439.90 V398.70" fill="none" stroke="#999" stroke-width="0.7"/>
<path d="M394.40,381.65 C406.90,380.15 420.90,378.65 429.90,381.65 L429.90,385.65 C420.90,387.65 406.90,392.15 394.40,392.65 Z" fill="#b4c4e6" fill-opacity="0.6" filter="url(#bl)"/>
<path d="M394.40,383.95 C404.90,383.35 414.90,382.25 422.90,383.55 L422.90,386.55 C414.90,387.95 404.90,390.35 394.40,390.55 Z" fill="#6f8fc4" fill-opacity="0.5" filter="url(#bl)"/>
<path d="M394.5 388.1h.6M400.8 385.9h.6M429.2 382.5h.6M397.7 385.9h.6M411.8 383.4h.6M395.0 384.7h.6M423.8 386.4h.6M396.4 384.7h.6M426.8 385.9h.6M399.1 385.8h.6M411.2 385.3h.6M416.0 388.8h.6M411.6 384.4h.6M394.4 391.7h.6M397.8 386.0h.6M420.1 388.3h.6M414.7 382.2h.6M419.3 385.6h.6M396.3 384.3h.6M394.8 388.7h.6M420.7 385.2h.6M397.5 384.7h.6M415.0 386.6h.6M399.7 385.1h.6M429.1 388.0h.6M400.1 387.7h.6M401.4 384.9h.6M425.7 386.5h.6M418.2 384.0h.6M395.2 382.3h.6M423.4 383.0h.6M411.2 386.7h.6M399.4 384.2h.6M401.1 390.0h.6M413.8 385.7h.6M409.6 384.7h.6M404.7 384.3h.6M423.2 387.4h.6M428.7 383.5h.6M418.0 386.1h.6M394.6 387.7h.6M395.3 385.4h.6M417.7 390.3h.6M423.5 384.1h.6M427.6 387.3h.6M394.8 386.1h.6M407.1 390.1h.6M421.9 386.9h.6M417.6 384.0h.6M396.7 384.4h.6M408.0 387.7h.6M414.0 386.1h.6M421.0 387.9h.6M401.9 387.1h.6M402.8 382.2h.6M405.6 388.3h.6M420.4 386.6h.6M410.8 384.1h.6M410.3 387.5h.6M413.6 388.2h.6M416.1 380.7h.6M417.8 387.8h.6M415.4 382.8h.6M418.1 388.3h.6M416.7 386.5h.6M399.6 392.0h.6M413.5 385.6h.6M411.4 387.6h.6M426.2 386.9h.6M396.8 383.1h.6M412.0 386.4h.6M412.6 384.9h.6M415.4 383.8h.6M414.5 385.5h.6M402.9 390.1h.6M399.2 381.3h.6M416.9 386.3h.6M411.9 391.2h.6M404.6 389.8h.6M411.3 383.8h.6M395.2 387.3h.6M403.3 382.2h.6" stroke="#6a8fc8" stroke-opacity="0.3" stroke-width="0.9" stroke-linecap="round"/>
<path d="M395.7 387.6h.6M400.2 386.6h.6M407.3 387.5h.6M400.2 387.2h.6M399.3 391.3h.6M417.1 386.6h.6M410.5 388.1h.6M394.7 383.0h.6M404.9 388.3h.6M394.7 384.8h.6M397.2 385.3h.6M396.8 387.6h.6M415.2 384.0h.6M396.6 394.0h.6M416.2 385.4h.6M396.6 390.2h.6M406.4 384.5h.6M399.1 385.6h.6M411.8 387.8h.6M406.2 384.8h.6M427.2 388.2h.6M428.9 386.1h.6M427.7 383.7h.6M428.0 385.1h.6M425.9 384.7h.6M427.3 384.0h.6M408.1 384.6h.6M421.8 386.0h.6M407.7 385.2h.6M402.5 390.3h.6M414.6 386.0h.6M423.8 388.9h.6M394.4 388.6h.6M422.2 392.5h.6M423.1 384.2h.6M421.7 386.5h.6M396.3 386.4h.6M426.0 386.1h.6M394.7 388.4h.6M396.3 385.0h.6M427.5 387.0h.6M408.1 387.1h.6M415.3 386.6h.6M398.6 389.4h.6M427.1 385.2h.6M425.7 386.1h.6M407.0 386.7h.6M395.1 389.2h.6M395.2 388.0h.6M394.9 388.6h.6M409.1 388.4h.6M423.8 387.1h.6M416.1 384.9h.6M403.7 389.0h.6M416.9 385.5h.6M423.6 385.4h.6M420.5 387.9h.6M428.5 384.2h.6M423.0 386.1h.6M410.4 388.7h.6M415.7 385.2h.6M396.5 390.3h.6M424.6 385.5h.6M409.1 385.5h.6M396.1 386.1h.6M412.1 387.9h.6M402.2 390.4h.6M412.8 385.6h.6M415.2 390.2h.6M423.2 383.7h.6M399.3 386.3h.6M424.6 387.0h.6M427.1 385.8h.6M406.0 388.6h.6M403.3 383.6h.6M396.0 386.0h.6" stroke="#4a72ad" stroke-opacity="0.3" stroke-width="0.9" stroke-linecap="round"/>
<path d="M425.4 385.2h.6M419.9 382.1h.6M409.1 384.3h.6M399.8 387.1h.6M406.0 387.2h.6M394.5 386.3h.6M418.2 385.6h.6M423.9 385.9h.6M422.1 385.8h.6M429.2 384.5h.6M421.0 386.9h.6M407.6 382.9h.6M408.0 388.5h.6M397.7 390.8h.6M427.8 383.3h.6M426.8 387.7h.6M417.6 386.6h.6M418.9 383.7h.6M405.7 386.4h.6M417.2 384.0h.6M418.5 388.3h.6M396.9 385.7h.6M419.5 387.9h.6M422.6 384.6h.6M425.7 386.2h.6M424.7 385.7h.6M414.5 387.6h.6M415.4 386.9h.6M400.9 382.9h.6M427.0 384.4h.6M415.7 386.8h.6M395.1 386.6h.6M405.7 384.9h.6M423.6 384.4h.6M410.1 388.3h.6M416.4 385.7h.6M395.3 385.4h.6M427.4 385.2h.6M408.4 383.3h.6M428.2 384.6h.6M421.0 385.0h.6M412.8 388.2h.6M409.3 382.3h.6M421.3 388.1h.6M412.0 382.6h.6M419.1 389.5h.6M409.3 385.9h.6M398.8 388.8h.6M397.5 391.4h.6M411.4 385.3h.6M426.4 387.2h.6M406.6 381.1h.6M412.2 383.9h.6M428.0 384.7h.6M406.3 384.4h.6M427.5 382.8h.6M423.8 386.0h.6M428.0 385.9h.6M418.1 385.5h.6M408.8 386.6h.6M413.3 385.6h.6M410.4 390.3h.6M394.8 385.0h.6M397.8 387.4h.6M408.8 386.2h.6M419.5 385.3h.6M396.2 380.9h.6M414.2 386.4h.6M422.8 385.1h.6M404.7 386.9h.6M410.0 382.7h.6M419.3 383.1h.6M396.0 385.2h.6M406.5 383.4h.6M415.6 382.8h.6M411.5 387.8h.6M417.8 386.5h.6M410.3 386.7h.6M401.4 387.7h.6M413.0 386.6h.6M398.2 387.7h.6M400.2 382.2h.6" stroke="#5a86a8" stroke-opacity="0.3" stroke-width="0.9" stroke-linecap="round"/>
<path d="M400.7 373.1h.4M422.2 363.3h.4M429.7 379.4h.4M412.4 369.3h.4M409.4 361.2h.4M413.7 363.3h.4M398.3 376.7h.4M421.0 363.9h.4M413.7 363.7h.4M423.3 374.8h.4M421.4 372.6h.4M400.0 363.2h.4M426.3 361.9h.4M404.4 366.6h.4M397.3 374.3h.4M406.8 373.6h.4M409.7 372.4h.4M411.5 366.7h.4M419.6 377.6h.4M403.0 379.2h.4M407.7 375.4h.4M414.1 366.4h.4M431.3 377.2h.4M406.5 373.3h.4M396.1 371.0h.4M397.3 372.0h.4M417.0 375.8h.4M431.6 376.3h.4M396.5 381.3h.4M404.6 367.7h.4M422.5 376.0h.4M427.7 378.9h.4M404.1 372.2h.4M415.1 365.6h.4M407.0 362.7h.4M418.6 368.3h.4M416.6 378.9h.4M416.2 360.9h.4M396.4 377.9h.4M407.0 378.7h.4M423.7 369.1h.4M400.7 368.9h.4M427.5 380.0h.4M396.6 371.8h.4M427.6 371.4h.4M414.1 375.4h.4M416.3 361.8h.4M417.4 366.8h.4M412.7 362.9h.4M423.6 372.6h.4M406.8 377.9h.4M431.1 368.9h.4M398.5 373.7h.4M411.3 371.1h.4M406.1 362.7h.4M413.3 364.6h.4M405.2 363.2h.4M415.6 372.2h.4M411.5 361.2h.4M416.2 372.4h.4" stroke="#a9bbe0" stroke-opacity="0.35" stroke-width="0.7" stroke-linecap="round"/>
<ellipse cx="394.20" cy="387.15" rx="3.6" ry="5.5" fill="#5f93c4" fill-opacity="0.6"/>
<ellipse cx="394.20" cy="387.15" rx="2.4" ry="3.4" fill="#7fb04a"/>
<ellipse cx="394.20" cy="387.15" rx="1.5" ry="2.2" fill="#e0c81e"/>
<ellipse cx="394.20" cy="387.15" rx="0.7" ry="1.1" fill="#e08a1e"/>
<rect x="399.60" y="370.20" width="37.60" height="26.40" fill="none" stroke="#555" stroke-width="0.6"/>
<rect x="408.80" y="369.20" width="19.2" height="2" fill="#fff"/>
<text x="408.60" y="361.40" font-size="6.6" fill="#222" textLength="19.60" lengthAdjust="spacingAndGlyphs">EGFR+</text>
<text x="412.20" y="369.00" font-size="6.6" fill="#222" textLength="12.40" lengthAdjust="spacingAndGlyphs">44.4</text>
<line x1="378.90" y1="338.90" x2="378.90" y2="399.80" stroke="#666" stroke-width="0.8" stroke-dasharray="0.9,0.7"/>
<line x1="378.90" y1="399.80" x2="439.90" y2="399.80" stroke="#555" stroke-width="0.8"/>
<line x1="376.70" y1="398.70" x2="378.90" y2="398.70" stroke="#333" stroke-width="0.7"/>
<text x="375.50" y="400.80" font-size="6.3" fill="#2a2a2a" text-anchor="end">0</text>
<line x1="376.70" y1="387.15" x2="378.90" y2="387.15" stroke="#333" stroke-width="0.7"/>
<text x="375.50" y="389.25" font-size="6.3" fill="#2a2a2a" text-anchor="end">50 K</text>
<line x1="376.70" y1="375.60" x2="378.90" y2="375.60" stroke="#333" stroke-width="0.7"/>
<text x="375.50" y="377.70" font-size="6.3" fill="#2a2a2a" text-anchor="end">100 K</text>
<line x1="376.70" y1="364.05" x2="378.90" y2="364.05" stroke="#333" stroke-width="0.7"/>
<text x="375.50" y="366.15" font-size="6.3" fill="#2a2a2a" text-anchor="end">150 K</text>
<line x1="376.70" y1="352.50" x2="378.90" y2="352.50" stroke="#333" stroke-width="0.7"/>
<text x="375.50" y="354.60" font-size="6.3" fill="#2a2a2a" text-anchor="end">200 K</text>
<line x1="376.70" y1="340.95" x2="378.90" y2="340.95" stroke="#333" stroke-width="0.7"/>
<text x="375.50" y="343.05" font-size="6.3" fill="#2a2a2a" text-anchor="end">250 K</text>
<line x1="382.40" y1="399.80" x2="382.40" y2="401.30" stroke="#333" stroke-width="0.7"/>
<g transform="translate(383.90,410.30) rotate(-45)"><text x="0" y="0" font-size="6.2" fill="#222" text-anchor="middle">−10<tspan font-size="4.8" dy="-2.2">3</tspan></text></g>
<line x1="392.90" y1="399.80" x2="392.90" y2="401.30" stroke="#333" stroke-width="0.7"/>
<g transform="translate(394.40,410.30) rotate(-45)"><text x="0" y="0" font-size="6.2" fill="#222" text-anchor="middle">0</text></g>
<line x1="402.30" y1="399.80" x2="402.30" y2="401.30" stroke="#333" stroke-width="0.7"/>
<g transform="translate(403.80,410.30) rotate(-45)"><text x="0" y="0" font-size="6.2" fill="#222" text-anchor="middle">10<tspan font-size="4.8" dy="-2.2">3</tspan></text></g>
<line x1="419.40" y1="399.80" x2="419.40" y2="401.30" stroke="#333" stroke-width="0.7"/>
<g transform="translate(420.90,410.30) rotate(-45)"><text x="0" y="0" font-size="6.2" fill="#222" text-anchor="middle">10<tspan font-size="4.8" dy="-2.2">4</tspan></text></g>
<line x1="434.40" y1="399.80" x2="434.40" y2="401.30" stroke="#333" stroke-width="0.7"/>
<g transform="translate(435.90,410.30) rotate(-45)"><text x="0" y="0" font-size="6.2" fill="#222" text-anchor="middle">10<tspan font-size="4.8" dy="-2.2">5</tspan></text></g>
<line x1="391.20" y1="399.80" x2="394.50" y2="399.80" stroke="#111" stroke-width="1.5"/>
<g transform="translate(52.3,279.2) rotate(-90)"><text x="0" y="0" font-size="8" fill="#222" font-weight="700" text-anchor="middle" textLength="52.5" lengthAdjust="spacingAndGlyphs">Isolated stimulation</text></g>
<g transform="translate(51.4,369.7) rotate(-90)"><text x="0" y="0" font-size="8" fill="#222" font-weight="700" text-anchor="middle" textLength="43.3" lengthAdjust="spacingAndGlyphs">Bulk stimulation</text></g>
<path d="M36.5,383 V424.6 H78.5" fill="none" stroke="#111" stroke-width="1.3"/>
<path d="M33.8,384.5 L39.2,384.5 L36.5,378.3 Z" fill="#111"/>
<path d="M77.2,421.9 L77.2,427.3 L83,424.6 Z" fill="#111"/>
<g transform="translate(30.3,400.7) rotate(-90)"><text x="0" y="0" font-size="10.2" fill="#222" font-weight="700" text-anchor="middle" textLength="19.5" lengthAdjust="spacingAndGlyphs">FSC-A</text></g>
<text x="45.60" y="437.10" font-size="9.4" fill="#222" font-weight="700" textLength="28.60" lengthAdjust="spacingAndGlyphs">EGFR-PE</text>
<text x="8.60" y="457.50" font-size="14" fill="#111" font-weight="700" textLength="8.70" lengthAdjust="spacingAndGlyphs" stroke="#111" stroke-width="0.5">C</text>
<text x="212.70" y="459.30" font-size="10" fill="#222" textLength="61.20" lengthAdjust="spacingAndGlyphs">CD4+ T Cells</text>
<text x="97.00" y="474.90" font-size="7.5" fill="#222" text-anchor="end">Bulk stim</text>
<text x="97.00" y="482.60" font-size="7.5" fill="#222" text-anchor="end">Bulk contr</text>
<text x="97.00" y="490.30" font-size="7.5" fill="#222" text-anchor="end">Isolated stim</text>
<text x="97.00" y="497.60" font-size="7.5" fill="#222" text-anchor="end">Isolated contr</text>
<rect x="100.30" y="469.60" width="7.71" height="7.65" fill="#ef7f2f"/>
<rect x="107.96" y="469.60" width="7.71" height="7.65" fill="#e8650f"/>
<rect x="115.62" y="469.60" width="7.71" height="7.65" fill="#f29046"/>
<rect x="123.28" y="469.60" width="7.71" height="7.65" fill="#f4a25f"/>
<rect x="130.94" y="469.60" width="7.71" height="7.65" fill="#f29046"/>
<rect x="138.60" y="469.60" width="7.71" height="7.65" fill="#f6b37f"/>
<rect x="146.26" y="469.60" width="7.71" height="7.65" fill="#f6b37f"/>
<rect x="153.92" y="469.60" width="7.71" height="7.65" fill="#f4a25f"/>
<rect x="161.58" y="469.60" width="7.71" height="7.65" fill="#f4a25f"/>
<rect x="169.24" y="469.60" width="7.71" height="7.65" fill="#f4a25f"/>
<rect x="176.90" y="469.60" width="7.71" height="7.65" fill="#f6b37f"/>
<rect x="184.56" y="469.60" width="7.71" height="7.65" fill="#f8c49e"/>
<rect x="192.22" y="469.60" width="7.71" height="7.65" fill="#f4a25f"/>
<rect x="199.88" y="469.60" width="7.71" height="7.65" fill="#fad3b8"/>
<rect x="207.54" y="469.60" width="7.71" height="7.65" fill="#f6b37f"/>
<rect x="222.86" y="469.60" width="7.71" height="7.65" fill="#f8c49e"/>
<rect x="230.52" y="469.60" width="7.71" height="7.65" fill="#f8c49e"/>
<rect x="238.18" y="469.60" width="7.71" height="7.65" fill="#f8c49e"/>
<rect x="245.84" y="469.60" width="7.71" height="7.65" fill="#f8c49e"/>
<rect x="253.50" y="469.60" width="7.71" height="7.65" fill="#f8c49e"/>
<rect x="261.16" y="469.60" width="7.71" height="7.65" fill="#f8c49e"/>
<rect x="268.82" y="469.60" width="7.71" height="7.65" fill="#f8c49e"/>
<rect x="276.48" y="469.60" width="7.71" height="7.65" fill="#f8c49e"/>
<rect x="284.14" y="469.60" width="7.71" height="7.65" fill="#f8c49e"/>
<rect x="291.80" y="469.60" width="7.71" height="7.65" fill="#f8c49e"/>
<rect x="299.46" y="469.60" width="7.71" height="7.65" fill="#f8c49e"/>
<rect x="314.78" y="469.60" width="7.71" height="7.65" fill="#fad3b8"/>
<rect x="322.44" y="469.60" width="7.71" height="7.65" fill="#f8c49e"/>
<rect x="330.10" y="469.60" width="7.71" height="7.65" fill="#f8c49e"/>
<rect x="337.76" y="469.60" width="7.71" height="7.65" fill="#f8c49e"/>
<rect x="345.42" y="469.60" width="7.71" height="7.65" fill="#f8c49e"/>
<rect x="353.08" y="469.60" width="7.71" height="7.65" fill="#f8c49e"/>
<rect x="360.74" y="469.60" width="7.71" height="7.65" fill="#fad3b8"/>
<rect x="368.40" y="469.60" width="7.71" height="7.65" fill="#fad3b8"/>
<rect x="376.06" y="469.60" width="7.71" height="7.65" fill="#fad3b8"/>
<rect x="383.72" y="469.60" width="7.71" height="7.65" fill="#fad3b8"/>
<rect x="391.38" y="469.60" width="7.71" height="7.65" fill="#fad3b8"/>
<rect x="399.04" y="469.60" width="7.71" height="7.65" fill="#fad3b8"/>
<rect x="100.30" y="477.20" width="7.71" height="7.65" fill="#ef7f2f"/>
<rect x="107.96" y="477.20" width="7.71" height="7.65" fill="#f8c49e"/>
<rect x="115.62" y="477.20" width="7.71" height="7.65" fill="#fad3b8"/>
<rect x="130.94" y="477.20" width="7.71" height="7.65" fill="#fad3b8"/>
<rect x="146.26" y="477.20" width="7.71" height="7.65" fill="#fad3b8"/>
<rect x="161.58" y="477.20" width="7.71" height="7.65" fill="#fad3b8"/>
<rect x="176.90" y="477.20" width="7.71" height="7.65" fill="#fad3b8"/>
<rect x="184.56" y="477.20" width="7.71" height="7.65" fill="#fad3b8"/>
<rect x="192.22" y="477.20" width="7.71" height="7.65" fill="#fad3b8"/>
<rect x="199.88" y="477.20" width="7.71" height="7.65" fill="#fad3b8"/>
<rect x="215.20" y="477.20" width="7.71" height="7.65" fill="#fad3b8"/>
<rect x="314.78" y="477.20" width="7.71" height="7.65" fill="#fce3d2"/>
<rect x="100.30" y="484.80" width="7.71" height="7.65" fill="#ef7f2f"/>
<rect x="107.96" y="484.80" width="7.71" height="7.65" fill="#f4a25f"/>
<rect x="115.62" y="484.80" width="7.71" height="7.65" fill="#f4a25f"/>
<rect x="123.28" y="484.80" width="7.71" height="7.65" fill="#f6b37f"/>
<rect x="130.94" y="484.80" width="7.71" height="7.65" fill="#f4a25f"/>
<rect x="138.60" y="484.80" width="7.71" height="7.65" fill="#f6b37f"/>
<rect x="146.26" y="484.80" width="7.71" height="7.65" fill="#f4a25f"/>
<rect x="153.92" y="484.80" width="7.71" height="7.65" fill="#f6b37f"/>
<rect x="161.58" y="484.80" width="7.71" height="7.65" fill="#f6b37f"/>
<rect x="169.24" y="484.80" width="7.71" height="7.65" fill="#f8c49e"/>
<rect x="176.90" y="484.80" width="7.71" height="7.65" fill="#f8c49e"/>
<rect x="184.56" y="484.80" width="7.71" height="7.65" fill="#f4a25f"/>
<rect x="192.22" y="484.80" width="7.71" height="7.65" fill="#f8c49e"/>
<rect x="199.88" y="484.80" width="7.71" height="7.65" fill="#f6b37f"/>
<rect x="207.54" y="484.80" width="7.71" height="7.65" fill="#f8c49e"/>
<rect x="215.20" y="484.80" width="7.71" height="7.65" fill="#fad3b8"/>
<rect x="222.86" y="484.80" width="7.71" height="7.65" fill="#fad3b8"/>
<rect x="230.52" y="484.80" width="7.71" height="7.65" fill="#fad3b8"/>
<rect x="238.18" y="484.80" width="7.71" height="7.65" fill="#fad3b8"/>
<rect x="245.84" y="484.80" width="7.71" height="7.65" fill="#fad3b8"/>
<rect x="253.50" y="484.80" width="7.71" height="7.65" fill="#fad3b8"/>
<rect x="276.48" y="484.80" width="7.71" height="7.65" fill="#fad3b8"/>
<rect x="284.14" y="484.80" width="7.71" height="7.65" fill="#fad3b8"/>
<rect x="291.80" y="484.80" width="7.71" height="7.65" fill="#fad3b8"/>
<rect x="299.46" y="484.80" width="7.71" height="7.65" fill="#fad3b8"/>
<rect x="307.12" y="484.80" width="7.71" height="7.65" fill="#fad3b8"/>
<rect x="360.74" y="484.80" width="7.71" height="7.65" fill="#fad3b8"/>
<rect x="368.40" y="484.80" width="7.71" height="7.65" fill="#fad3b8"/>
<rect x="376.06" y="484.80" width="7.71" height="7.65" fill="#fad3b8"/>
<rect x="383.72" y="484.80" width="7.71" height="7.65" fill="#fad3b8"/>
<rect x="391.38" y="484.80" width="7.71" height="7.65" fill="#fad3b8"/>
<rect x="399.04" y="484.80" width="7.71" height="7.65" fill="#fad3b8"/>
<rect x="100.30" y="492.40" width="7.71" height="7.65" fill="#ef7f2f"/>
<rect x="107.96" y="492.40" width="7.71" height="7.65" fill="#f8c49e"/>
<rect x="146.26" y="492.40" width="7.71" height="7.65" fill="#fad3b8"/>
<rect x="176.90" y="492.40" width="7.71" height="7.65" fill="#fce3d2"/>
<rect x="192.22" y="492.40" width="7.71" height="7.65" fill="#fce3d2"/>
<rect x="207.54" y="492.40" width="7.71" height="7.65" fill="#fce3d2"/>
<rect x="215.20" y="492.40" width="7.71" height="7.65" fill="#fce3d2"/>
<rect x="245.84" y="492.40" width="7.71" height="7.65" fill="#fce3d2"/>
<rect x="307.12" y="492.40" width="7.71" height="7.65" fill="#fad3b8"/>
<line x1="100.30" y1="484.80" x2="411.70" y2="484.80" stroke="#9a8f8f" stroke-width="0.5" stroke-dasharray="1.2,1.6"/>
<rect x="80.60" y="501.10" width="328.40" height="36.10" fill="#ecf4f9"/>
<line x1="80.60" y1="501.10" x2="409.00" y2="501.10" stroke="#cfd6dc" stroke-width="0.6"/>
<rect x="80.60" y="506.01" width="328.40" height="3.41" fill="#f1f7fb"/>
<rect x="80.60" y="512.82" width="328.40" height="3.41" fill="#f1f7fb"/>
<rect x="80.60" y="519.64" width="328.40" height="3.41" fill="#f1f7fb"/>
<rect x="80.60" y="526.46" width="328.40" height="3.41" fill="#f1f7fb"/>
<rect x="80.60" y="533.28" width="328.40" height="3.41" fill="#f1f7fb"/>
<text x="81.50" y="505.50" font-size="3.4" fill="#666">IL-4</text>
<text x="81.50" y="508.91" font-size="3.4" fill="#666">MIP-1b</text>
<text x="81.50" y="512.32" font-size="3.4" fill="#666">IL-2</text>
<text x="81.50" y="515.73" font-size="3.4" fill="#666">IL-5</text>
<text x="81.50" y="519.14" font-size="3.4" fill="#666">IL-8</text>
<text x="81.50" y="522.55" font-size="3.4" fill="#666">Granzyme B</text>
<text x="81.50" y="525.96" font-size="3.4" fill="#666">IFN-g</text>
<text x="81.50" y="529.37" font-size="3.4" fill="#666">MIP-1a</text>
<text x="81.50" y="532.78" font-size="3.4" fill="#666">Perforin</text>
<text x="81.50" y="536.19" font-size="3.4" fill="#666">TNF-a</text>
<path d="M103.7 521.4h.1M111.4 535.0h.1M119.1 504.3h.1M126.7 524.8h.1M134.4 504.3h.1M134.4 514.5h.1M142.0 511.1h.1M149.7 521.4h.1M149.7 531.6h.1M157.4 514.5h.1M165.0 524.8h.1M165.0 535.0h.1M172.7 511.1h.1M172.7 535.0h.1M180.3 521.4h.1M180.3 535.0h.1M188.0 504.3h.1M188.0 535.0h.1M195.7 531.6h.1M203.3 504.3h.1M203.3 521.4h.1M211.0 521.4h.1M211.0 524.8h.1M218.6 507.7h.1M226.3 521.4h.1M226.3 524.8h.1M226.3 531.6h.1M234.0 521.4h.1M234.0 531.6h.1M234.0 535.0h.1M241.6 521.4h.1M241.6 524.8h.1M241.6 535.0h.1M249.3 507.7h.1M249.3 521.4h.1M249.3 524.8h.1M256.9 504.3h.1M256.9 511.1h.1M264.6 504.3h.1M264.6 507.7h.1M264.6 524.8h.1M264.6 535.0h.1M272.3 504.3h.1M272.3 511.1h.1M272.3 514.5h.1M272.3 535.0h.1M279.9 511.1h.1M279.9 521.4h.1M279.9 535.0h.1M287.6 511.1h.1M287.6 524.8h.1M287.6 535.0h.1M295.2 504.3h.1M295.2 524.8h.1M302.9 517.9h.1M310.6 507.7h.1M310.6 524.8h.1M318.2 507.7h.1M318.2 521.4h.1M325.9 504.3h.1M325.9 511.1h.1M325.9 524.8h.1M325.9 535.0h.1M333.5 507.7h.1M333.5 524.8h.1M333.5 528.2h.1M333.5 535.0h.1M341.2 504.3h.1M341.2 521.4h.1M341.2 535.0h.1M348.9 504.3h.1M348.9 524.8h.1M348.9 535.0h.1M356.5 511.1h.1M356.5 531.6h.1M356.5 535.0h.1M364.2 507.7h.1M364.2 521.4h.1M364.2 524.8h.1M364.2 528.2h.1M364.2 531.6h.1M364.2 535.0h.1M371.8 511.1h.1M371.8 521.4h.1M371.8 524.8h.1M371.8 535.0h.1M379.5 507.7h.1M379.5 521.4h.1M379.5 524.8h.1M379.5 528.2h.1M387.2 507.7h.1M387.2 521.4h.1M387.2 524.8h.1M387.2 535.0h.1M394.8 507.7h.1M394.8 521.4h.1M394.8 528.2h.1M402.5 511.1h.1M402.5 521.4h.1" stroke="#7d7d78" stroke-width="1.1" stroke-linecap="round"/>
<rect x="261.20" y="468.40" width="16.00" height="69.80" fill="none" stroke="#3a3a90" stroke-width="1.2"/>
<rect x="321.70" y="468.20" width="39.20" height="70.00" fill="none" stroke="#3a3a90" stroke-width="1.2"/>
<text x="213.40" y="551.90" font-size="10" fill="#222" textLength="61.00" lengthAdjust="spacingAndGlyphs">CD8+ T Cells</text>
<text x="98.10" y="567.00" font-size="7.5" fill="#222" text-anchor="end">Bulk stim</text>
<text x="98.10" y="574.80" font-size="7.5" fill="#222" text-anchor="end">Bulk contr</text>
<text x="98.10" y="582.60" font-size="7.5" fill="#222" text-anchor="end">Isolated stim</text>
<text x="98.10" y="590.10" font-size="7.5" fill="#222" text-anchor="end">Isolated contr</text>
<rect x="101.40" y="561.50" width="7.71" height="7.65" fill="#e8650f"/>
<rect x="109.06" y="561.50" width="7.71" height="7.65" fill="#ef7f2f"/>
<rect x="116.72" y="561.50" width="7.71" height="7.65" fill="#f29046"/>
<rect x="124.38" y="561.50" width="7.71" height="7.65" fill="#f4a25f"/>
<rect x="132.04" y="561.50" width="7.71" height="7.65" fill="#f4a25f"/>
<rect x="139.70" y="561.50" width="7.71" height="7.65" fill="#f4a25f"/>
<rect x="147.36" y="561.50" width="7.71" height="7.65" fill="#f6b37f"/>
<rect x="155.02" y="561.50" width="7.71" height="7.65" fill="#f6b37f"/>
<rect x="162.68" y="561.50" width="7.71" height="7.65" fill="#f4a25f"/>
<rect x="170.34" y="561.50" width="7.71" height="7.65" fill="#f4a25f"/>
<rect x="178.00" y="561.50" width="7.71" height="7.65" fill="#f6b37f"/>
<rect x="185.66" y="561.50" width="7.71" height="7.65" fill="#f6b37f"/>
<rect x="193.32" y="561.50" width="7.71" height="7.65" fill="#f6b37f"/>
<rect x="200.98" y="561.50" width="7.71" height="7.65" fill="#f6b37f"/>
<rect x="208.64" y="561.50" width="7.71" height="7.65" fill="#f6b37f"/>
<rect x="216.30" y="561.50" width="7.71" height="7.65" fill="#f6b37f"/>
<rect x="223.96" y="561.50" width="7.71" height="7.65" fill="#f8c49e"/>
<rect x="231.62" y="561.50" width="7.71" height="7.65" fill="#f8c49e"/>
<rect x="239.28" y="561.50" width="7.71" height="7.65" fill="#f8c49e"/>
<rect x="246.94" y="561.50" width="7.71" height="7.65" fill="#f8c49e"/>
<rect x="254.60" y="561.50" width="7.71" height="7.65" fill="#f8c49e"/>
<rect x="262.26" y="561.50" width="7.71" height="7.65" fill="#f8c49e"/>
<rect x="269.92" y="561.50" width="7.71" height="7.65" fill="#f8c49e"/>
<rect x="277.58" y="561.50" width="7.71" height="7.65" fill="#f8c49e"/>
<rect x="285.24" y="561.50" width="7.71" height="7.65" fill="#f8c49e"/>
<rect x="292.90" y="561.50" width="7.71" height="7.65" fill="#fad3b8"/>
<rect x="300.56" y="561.50" width="7.71" height="7.65" fill="#f8c49e"/>
<rect x="308.22" y="561.50" width="7.71" height="7.65" fill="#f8c49e"/>
<rect x="315.88" y="561.50" width="7.71" height="7.65" fill="#f6b37f"/>
<rect x="323.54" y="561.50" width="7.71" height="7.65" fill="#f6b37f"/>
<rect x="338.86" y="561.50" width="7.71" height="7.65" fill="#fad3b8"/>
<rect x="346.52" y="561.50" width="7.71" height="7.65" fill="#fad3b8"/>
<rect x="354.18" y="561.50" width="7.71" height="7.65" fill="#fad3b8"/>
<rect x="377.16" y="561.50" width="7.71" height="7.65" fill="#f8c49e"/>
<rect x="384.82" y="561.50" width="7.71" height="7.65" fill="#f8c49e"/>
<rect x="392.48" y="561.50" width="7.71" height="7.65" fill="#f8c49e"/>
<rect x="400.14" y="561.50" width="7.71" height="7.65" fill="#f8c49e"/>
<rect x="101.40" y="569.10" width="7.71" height="7.65" fill="#e8650f"/>
<rect x="109.06" y="569.10" width="7.71" height="7.65" fill="#f6b37f"/>
<rect x="116.72" y="569.10" width="7.71" height="7.65" fill="#f6b37f"/>
<rect x="124.38" y="569.10" width="7.71" height="7.65" fill="#fad3b8"/>
<rect x="132.04" y="569.10" width="7.71" height="7.65" fill="#fad3b8"/>
<rect x="139.70" y="569.10" width="7.71" height="7.65" fill="#fad3b8"/>
<rect x="147.36" y="569.10" width="7.71" height="7.65" fill="#fad3b8"/>
<rect x="155.02" y="569.10" width="7.71" height="7.65" fill="#fce3d2"/>
<rect x="162.68" y="569.10" width="7.71" height="7.65" fill="#fad3b8"/>
<rect x="178.00" y="569.10" width="7.71" height="7.65" fill="#fad3b8"/>
<rect x="193.32" y="569.10" width="7.71" height="7.65" fill="#fad3b8"/>
<rect x="223.96" y="569.10" width="7.71" height="7.65" fill="#fad3b8"/>
<rect x="262.26" y="569.10" width="7.71" height="7.65" fill="#fce3d2"/>
<rect x="269.92" y="569.10" width="7.71" height="7.65" fill="#fce3d2"/>
<rect x="277.58" y="569.10" width="7.71" height="7.65" fill="#fce3d2"/>
<rect x="285.24" y="569.10" width="7.71" height="7.65" fill="#fce3d2"/>
<rect x="292.90" y="569.10" width="7.71" height="7.65" fill="#fce3d2"/>
<rect x="308.22" y="569.10" width="7.71" height="7.65" fill="#fce3d2"/>
<rect x="361.84" y="569.10" width="7.71" height="7.65" fill="#fad3b8"/>
<rect x="369.50" y="569.10" width="7.71" height="7.65" fill="#fad3b8"/>
<rect x="101.40" y="576.70" width="7.71" height="7.65" fill="#e8650f"/>
<rect x="109.06" y="576.70" width="7.71" height="7.65" fill="#f29046"/>
<rect x="116.72" y="576.70" width="7.71" height="7.65" fill="#f29046"/>
<rect x="124.38" y="576.70" width="7.71" height="7.65" fill="#f4a25f"/>
<rect x="132.04" y="576.70" width="7.71" height="7.65" fill="#f6b37f"/>
<rect x="139.70" y="576.70" width="7.71" height="7.65" fill="#f6b37f"/>
<rect x="147.36" y="576.70" width="7.71" height="7.65" fill="#f6b37f"/>
<rect x="155.02" y="576.70" width="7.71" height="7.65" fill="#f8c49e"/>
<rect x="162.68" y="576.70" width="7.71" height="7.65" fill="#f6b37f"/>
<rect x="170.34" y="576.70" width="7.71" height="7.65" fill="#f6b37f"/>
<rect x="178.00" y="576.70" width="7.71" height="7.65" fill="#f8c49e"/>
<rect x="185.66" y="576.70" width="7.71" height="7.65" fill="#fad3b8"/>
<rect x="193.32" y="576.70" width="7.71" height="7.65" fill="#fad3b8"/>
<rect x="223.96" y="576.70" width="7.71" height="7.65" fill="#f8c49e"/>
<rect x="231.62" y="576.70" width="7.71" height="7.65" fill="#f8c49e"/>
<rect x="239.28" y="576.70" width="7.71" height="7.65" fill="#f8c49e"/>
<rect x="246.94" y="576.70" width="7.71" height="7.65" fill="#f8c49e"/>
<rect x="292.90" y="576.70" width="7.71" height="7.65" fill="#fad3b8"/>
<rect x="300.56" y="576.70" width="7.71" height="7.65" fill="#fad3b8"/>
<rect x="308.22" y="576.70" width="7.71" height="7.65" fill="#fad3b8"/>
<rect x="331.20" y="576.70" width="7.71" height="7.65" fill="#fad3b8"/>
<rect x="338.86" y="576.70" width="7.71" height="7.65" fill="#fad3b8"/>
<rect x="346.52" y="576.70" width="7.71" height="7.65" fill="#fad3b8"/>
<rect x="354.18" y="576.70" width="7.71" height="7.65" fill="#fad3b8"/>
<rect x="361.84" y="576.70" width="7.71" height="7.65" fill="#fad3b8"/>
<rect x="369.50" y="576.70" width="7.71" height="7.65" fill="#fad3b8"/>
<rect x="101.40" y="584.30" width="7.71" height="7.65" fill="#e8650f"/>
<rect x="109.06" y="584.30" width="7.71" height="7.65" fill="#f6b37f"/>
<rect x="116.72" y="584.30" width="7.71" height="7.65" fill="#f6b37f"/>
<rect x="132.04" y="584.30" width="7.71" height="7.65" fill="#fad3b8"/>
<rect x="139.70" y="584.30" width="7.71" height="7.65" fill="#fad3b8"/>
<rect x="147.36" y="584.30" width="7.71" height="7.65" fill="#fad3b8"/>
<rect x="155.02" y="584.30" width="7.71" height="7.65" fill="#fad3b8"/>
<rect x="162.68" y="584.30" width="7.71" height="7.65" fill="#fce3d2"/>
<rect x="170.34" y="584.30" width="7.71" height="7.65" fill="#fce3d2"/>
<rect x="178.00" y="584.30" width="7.71" height="7.65" fill="#fce3d2"/>
<rect x="185.66" y="584.30" width="7.71" height="7.65" fill="#fce3d2"/>
<rect x="193.32" y="584.30" width="7.71" height="7.65" fill="#fce3d2"/>
<line x1="101.40" y1="576.70" x2="412.80" y2="576.70" stroke="#9a8f8f" stroke-width="0.5" stroke-dasharray="1.2,1.6"/>
<rect x="81.00" y="593.40" width="329.00" height="32.30" fill="#ecf4f9"/>
<line x1="81.00" y1="593.40" x2="410.00" y2="593.40" stroke="#cfd6dc" stroke-width="0.6"/>
<rect x="81.00" y="597.53" width="329.00" height="3.47" fill="#f1f7fb"/>
<rect x="81.00" y="604.47" width="329.00" height="3.47" fill="#f1f7fb"/>
<rect x="81.00" y="611.41" width="329.00" height="3.47" fill="#f1f7fb"/>
<rect x="81.00" y="618.35" width="329.00" height="3.47" fill="#f1f7fb"/>
<text x="81.90" y="597.00" font-size="3.4" fill="#666">IL-4</text>
<text x="81.90" y="600.47" font-size="3.4" fill="#666">MIP-1b</text>
<text x="81.90" y="603.94" font-size="3.4" fill="#666">IL-2</text>
<text x="81.90" y="607.41" font-size="3.4" fill="#666">IL-8</text>
<text x="81.90" y="610.88" font-size="3.4" fill="#666">Granzyme B</text>
<text x="81.90" y="614.35" font-size="3.4" fill="#666">IFN-g</text>
<text x="81.90" y="617.82" font-size="3.4" fill="#666">MIP-1a</text>
<text x="81.90" y="621.29" font-size="3.4" fill="#666">Perforin</text>
<text x="81.90" y="624.76" font-size="3.4" fill="#666">TNF-a</text>
<path d="M104.8 609.7h.1M112.5 609.7h.1M112.5 620.1h.1M120.2 620.1h.1M127.8 609.7h.1M127.8 613.1h.1M135.5 613.1h.1M143.1 609.7h.1M143.1 613.1h.1M143.1 620.1h.1M150.8 609.7h.1M150.8 623.6h.1M158.5 599.3h.1M158.5 609.7h.1M158.5 613.1h.1M166.1 623.6h.1M173.8 595.8h.1M181.4 599.3h.1M181.4 609.7h.1M189.1 599.3h.1M189.1 609.7h.1M189.1 613.1h.1M189.1 620.1h.1M196.8 599.3h.1M196.8 609.7h.1M196.8 620.1h.1M204.4 599.3h.1M204.4 602.7h.1M204.4 609.7h.1M204.4 613.1h.1M204.4 616.6h.1M204.4 620.1h.1M204.4 623.6h.1M212.1 599.3h.1M212.1 602.7h.1M212.1 609.7h.1M212.1 613.1h.1M212.1 620.1h.1M212.1 623.6h.1M219.7 602.7h.1M219.7 609.7h.1M219.7 613.1h.1M219.7 620.1h.1M227.4 606.2h.1M235.1 599.3h.1M235.1 613.1h.1M235.1 620.1h.1M242.7 609.7h.1M242.7 613.1h.1M242.7 620.1h.1M242.7 623.6h.1M250.4 602.7h.1M250.4 609.7h.1M250.4 620.1h.1M258.0 599.3h.1M258.0 609.7h.1M258.0 613.1h.1M258.0 623.6h.1M265.7 599.3h.1M265.7 609.7h.1M265.7 613.1h.1M265.7 616.6h.1M265.7 620.1h.1M265.7 623.6h.1M273.4 599.3h.1M273.4 609.7h.1M273.4 613.1h.1M273.4 616.6h.1M281.0 609.7h.1M281.0 620.1h.1M281.0 623.6h.1M288.7 599.3h.1M288.7 613.1h.1M296.3 599.3h.1M304.0 602.7h.1M304.0 609.7h.1M304.0 620.1h.1M304.0 623.6h.1M311.7 613.1h.1M311.7 623.6h.1M319.3 599.3h.1M319.3 609.7h.1M319.3 613.1h.1M319.3 620.1h.1M319.3 623.6h.1M327.0 609.7h.1M327.0 613.1h.1M327.0 623.6h.1M334.6 599.3h.1M334.6 609.7h.1M334.6 613.1h.1M334.6 620.1h.1M334.6 623.6h.1M342.3 602.7h.1M342.3 609.7h.1M342.3 613.1h.1M342.3 623.6h.1M350.0 606.2h.1M350.0 609.7h.1M350.0 613.1h.1M350.0 623.6h.1M357.6 613.1h.1M357.6 620.1h.1M357.6 623.6h.1M365.3 599.3h.1M365.3 613.1h.1M365.3 620.1h.1M365.3 623.6h.1M372.9 599.3h.1M372.9 609.7h.1M372.9 623.6h.1M380.6 599.3h.1M380.6 602.7h.1M380.6 606.2h.1M380.6 609.7h.1M380.6 613.1h.1M380.6 616.6h.1M380.6 620.1h.1M380.6 623.6h.1M388.3 599.3h.1M388.3 602.7h.1M388.3 606.2h.1M388.3 609.7h.1M388.3 613.1h.1M388.3 616.6h.1M388.3 620.1h.1M395.9 602.7h.1M395.9 606.2h.1M395.9 609.7h.1M395.9 613.1h.1M395.9 616.6h.1M395.9 620.1h.1M395.9 623.6h.1M403.6 599.3h.1M403.6 602.7h.1M403.6 609.7h.1M403.6 613.1h.1M403.6 616.6h.1M403.6 623.6h.1" stroke="#7d7d78" stroke-width="1.1" stroke-linecap="round"/>
<rect x="200.20" y="559.40" width="23.50" height="67.40" fill="none" stroke="#3a3a90" stroke-width="1.2"/>
<rect x="253.30" y="559.40" width="9.50" height="67.40" fill="none" stroke="#3a3a90" stroke-width="1.2"/>
<rect x="315.40" y="559.40" width="15.70" height="67.40" fill="none" stroke="#3a3a90" stroke-width="1.2"/>
<rect x="376.60" y="559.40" width="31.00" height="67.40" fill="none" stroke="#3a3a90" stroke-width="1.2"/>
<text x="103.50" y="638.70" font-size="7.6" fill="#222" textLength="281.30" lengthAdjust="spacingAndGlyphs">color indicates percentage of sample secreting the specified combination of cytokines</text>
<rect x="164.00" y="645.80" width="4.2" height="4.6" fill="#ffffff" stroke="#666" stroke-width="0.5"/>
<text x="171.70" y="650.80" font-size="7.4" fill="#222" textLength="18.50" lengthAdjust="spacingAndGlyphs">0.1%</text>
<rect x="200.80" y="645.80" width="4.2" height="4.6" fill="#fbddc8"/>
<text x="208.60" y="650.80" font-size="7.4" fill="#222" textLength="17.50" lengthAdjust="spacingAndGlyphs">0.5%</text>
<rect x="238.60" y="645.80" width="4.2" height="4.6" fill="#f8c49e"/>
<text x="245.50" y="650.80" font-size="7.4" fill="#222" textLength="11.50" lengthAdjust="spacingAndGlyphs">1%</text>
<rect x="268.50" y="645.80" width="4.2" height="4.6" fill="#f18d41"/>
<text x="276.00" y="650.80" font-size="7.4" fill="#222" textLength="17.00" lengthAdjust="spacingAndGlyphs">2.5%</text>
<rect x="304.90" y="645.80" width="4.2" height="4.6" fill="#e8650f"/>
<text x="312.50" y="650.80" font-size="7.4" fill="#222" textLength="11.30" lengthAdjust="spacingAndGlyphs">5%</text>
<text x="9.00" y="669.60" font-size="13.6" fill="#111" font-weight="700" textLength="8.65" lengthAdjust="spacingAndGlyphs" stroke="#111" stroke-width="0.5">D</text>
<text x="95.00" y="670.00" font-size="10.2" fill="#222" textLength="27.60" lengthAdjust="spacingAndGlyphs">CD4+</text>
<line x1="60.70" y1="678.05" x2="60.70" y2="771.70" stroke="#111" stroke-width="1.15"/>
<line x1="57.90" y1="771.20" x2="60.70" y2="771.20" stroke="#111" stroke-width="0.9"/>
<text x="54.40" y="773.70" font-size="7.7" fill="#222" text-anchor="end">0</text>
<line x1="57.90" y1="760.85" x2="60.70" y2="760.85" stroke="#111" stroke-width="0.9"/>
<text x="54.40" y="763.35" font-size="7.7" fill="#222" text-anchor="end">200</text>
<line x1="57.90" y1="750.50" x2="60.70" y2="750.50" stroke="#111" stroke-width="0.9"/>
<text x="54.40" y="753.00" font-size="7.7" fill="#222" text-anchor="end">400</text>
<line x1="57.90" y1="740.15" x2="60.70" y2="740.15" stroke="#111" stroke-width="0.9"/>
<text x="54.40" y="742.65" font-size="7.7" fill="#222" text-anchor="end">600</text>
<line x1="57.90" y1="729.80" x2="60.70" y2="729.80" stroke="#111" stroke-width="0.9"/>
<text x="54.40" y="732.30" font-size="7.7" fill="#222" text-anchor="end">800</text>
<line x1="57.90" y1="719.45" x2="60.70" y2="719.45" stroke="#111" stroke-width="0.9"/>
<text x="54.40" y="721.95" font-size="7.7" fill="#222" text-anchor="end">1000</text>
<line x1="57.90" y1="709.10" x2="60.70" y2="709.10" stroke="#111" stroke-width="0.9"/>
<text x="54.40" y="711.60" font-size="7.7" fill="#222" text-anchor="end">1200</text>
<line x1="57.90" y1="698.75" x2="60.70" y2="698.75" stroke="#111" stroke-width="0.9"/>
<text x="54.40" y="701.25" font-size="7.7" fill="#222" text-anchor="end">1400</text>
<line x1="57.90" y1="688.40" x2="60.70" y2="688.40" stroke="#111" stroke-width="0.9"/>
<text x="54.40" y="690.90" font-size="7.7" fill="#222" text-anchor="end">1600</text>
<line x1="57.90" y1="678.05" x2="60.70" y2="678.05" stroke="#111" stroke-width="0.9"/>
<text x="54.40" y="680.55" font-size="7.7" fill="#222" text-anchor="end">1800</text>
<line x1="60.70" y1="771.20" x2="155.50" y2="771.20" stroke="#111" stroke-width="1.15"/>
<rect x="67.30" y="768.87" width="14.2" height="2.33" fill="#a9ae9a"/>
<line x1="74.30" y1="771.20" x2="74.30" y2="774.20" stroke="#111" stroke-width="0.9"/>
<rect x="90.40" y="748.95" width="14.2" height="22.25" fill="#a4b882"/>
<rect x="90.40" y="743.25" width="14.2" height="5.69" fill="#2f9fe3"/>
<rect x="90.40" y="741.96" width="14.2" height="1.29" fill="#7e78c2"/>
<rect x="90.40" y="737.56" width="14.2" height="4.40" fill="#f7b612"/>
<line x1="97.40" y1="771.20" x2="97.40" y2="774.20" stroke="#111" stroke-width="0.9"/>
<rect x="113.80" y="769.65" width="14.2" height="1.55" fill="#a9ae9a"/>
<rect x="113.80" y="768.72" width="14.2" height="0.93" fill="#f7b612"/>
<line x1="120.80" y1="771.20" x2="120.80" y2="774.20" stroke="#111" stroke-width="0.9"/>
<rect x="137.20" y="737.56" width="14.2" height="33.64" fill="#a4b882"/>
<rect x="137.20" y="725.14" width="14.2" height="12.42" fill="#2f9fe3"/>
<rect x="137.20" y="724.11" width="14.2" height="1.03" fill="#7e78c2"/>
<rect x="137.20" y="714.53" width="14.2" height="9.57" fill="#f7b612"/>
<line x1="144.20" y1="771.20" x2="144.20" y2="774.20" stroke="#111" stroke-width="0.9"/>
<line x1="108.90" y1="694.30" x2="108.90" y2="764.00" stroke="#222" stroke-width="1.3" stroke-dasharray="1.2,1.2"/>
<g transform="translate(31.00,724.62) rotate(-90)"><text x="0" y="0" font-size="9.6" fill="#222" font-weight="700" text-anchor="middle" textLength="90" lengthAdjust="spacingAndGlyphs">Polyfunctional strength index</text></g>
<g transform="translate(74.60,780.40) rotate(-45)"><text x="0" y="0" font-size="7.5" fill="#222" text-anchor="end">Isolated</text><text x="0" y="8.2" font-size="7.5" fill="#222" text-anchor="end">Control</text></g>
<g transform="translate(97.70,780.40) rotate(-45)"><text x="0" y="0" font-size="7.5" fill="#222" text-anchor="end">Isolated</text><text x="0" y="8.2" font-size="7.5" fill="#222" text-anchor="end">Stim</text></g>
<g transform="translate(121.10,780.40) rotate(-45)"><text x="0" y="0" font-size="7.5" fill="#222" text-anchor="end">Bulk</text><text x="0" y="8.2" font-size="7.5" fill="#222" text-anchor="end">Control</text></g>
<g transform="translate(144.50,780.40) rotate(-45)"><text x="0" y="0" font-size="7.5" fill="#222" text-anchor="end">Bulk</text><text x="0" y="8.2" font-size="7.5" fill="#222" text-anchor="end">Stim</text></g>
<text x="351.00" y="670.00" font-size="10.2" fill="#222" textLength="27.20" lengthAdjust="spacingAndGlyphs">CD8+</text>
<line x1="316.50" y1="677.41" x2="316.50" y2="771.60" stroke="#111" stroke-width="1.15"/>
<line x1="313.70" y1="771.10" x2="316.50" y2="771.10" stroke="#111" stroke-width="0.9"/>
<text x="310.20" y="773.60" font-size="7.7" fill="#222" text-anchor="end">0</text>
<line x1="313.70" y1="760.69" x2="316.50" y2="760.69" stroke="#111" stroke-width="0.9"/>
<text x="310.20" y="763.19" font-size="7.7" fill="#222" text-anchor="end">200</text>
<line x1="313.70" y1="750.28" x2="316.50" y2="750.28" stroke="#111" stroke-width="0.9"/>
<text x="310.20" y="752.78" font-size="7.7" fill="#222" text-anchor="end">400</text>
<line x1="313.70" y1="739.87" x2="316.50" y2="739.87" stroke="#111" stroke-width="0.9"/>
<text x="310.20" y="742.37" font-size="7.7" fill="#222" text-anchor="end">600</text>
<line x1="313.70" y1="729.46" x2="316.50" y2="729.46" stroke="#111" stroke-width="0.9"/>
<text x="310.20" y="731.96" font-size="7.7" fill="#222" text-anchor="end">800</text>
<line x1="313.70" y1="719.05" x2="316.50" y2="719.05" stroke="#111" stroke-width="0.9"/>
<text x="310.20" y="721.55" font-size="7.7" fill="#222" text-anchor="end">1000</text>
<line x1="313.70" y1="708.64" x2="316.50" y2="708.64" stroke="#111" stroke-width="0.9"/>
<text x="310.20" y="711.14" font-size="7.7" fill="#222" text-anchor="end">1200</text>
<line x1="313.70" y1="698.23" x2="316.50" y2="698.23" stroke="#111" stroke-width="0.9"/>
<text x="310.20" y="700.73" font-size="7.7" fill="#222" text-anchor="end">1400</text>
<line x1="313.70" y1="687.82" x2="316.50" y2="687.82" stroke="#111" stroke-width="0.9"/>
<text x="310.20" y="690.32" font-size="7.7" fill="#222" text-anchor="end">1600</text>
<line x1="313.70" y1="677.41" x2="316.50" y2="677.41" stroke="#111" stroke-width="0.9"/>
<text x="310.20" y="679.91" font-size="7.7" fill="#222" text-anchor="end">1800</text>
<line x1="316.50" y1="771.10" x2="411.00" y2="771.10" stroke="#111" stroke-width="1.15"/>
<rect x="321.00" y="768.19" width="14.2" height="2.91" fill="#a4b882"/>
<line x1="328.00" y1="771.10" x2="328.00" y2="774.10" stroke="#111" stroke-width="0.9"/>
<rect x="344.50" y="748.67" width="14.2" height="22.43" fill="#a4b882"/>
<rect x="344.50" y="745.23" width="14.2" height="3.44" fill="#7e78c2"/>
<rect x="344.50" y="744.24" width="14.2" height="0.99" fill="#f7b612"/>
<line x1="351.50" y1="771.10" x2="351.50" y2="774.10" stroke="#111" stroke-width="0.9"/>
<rect x="368.30" y="764.07" width="14.2" height="7.03" fill="#a4b882"/>
<rect x="368.30" y="762.93" width="14.2" height="1.15" fill="#8e9a7a"/>
<line x1="375.30" y1="771.10" x2="375.30" y2="774.10" stroke="#111" stroke-width="0.9"/>
<rect x="391.90" y="701.09" width="14.2" height="70.01" fill="#a4b882"/>
<rect x="391.90" y="690.42" width="14.2" height="10.67" fill="#2f9fe3"/>
<rect x="391.90" y="681.05" width="14.2" height="9.37" fill="#7e78c2"/>
<rect x="391.90" y="679.34" width="14.2" height="1.72" fill="#f7b612"/>
<line x1="398.90" y1="771.10" x2="398.90" y2="774.10" stroke="#111" stroke-width="0.9"/>
<line x1="363.50" y1="694.00" x2="363.50" y2="764.20" stroke="#222" stroke-width="1.3" stroke-dasharray="1.2,1.2"/>
<g transform="translate(285.30,724.26) rotate(-90)"><text x="0" y="0" font-size="9.6" fill="#222" font-weight="700" text-anchor="middle" textLength="90" lengthAdjust="spacingAndGlyphs">Polyfunctional strength index</text></g>
<g transform="translate(328.30,780.30) rotate(-45)"><text x="0" y="0" font-size="7.5" fill="#222" text-anchor="end">Isolated</text><text x="0" y="8.2" font-size="7.5" fill="#222" text-anchor="end">Control</text></g>
<g transform="translate(351.80,780.30) rotate(-45)"><text x="0" y="0" font-size="7.5" fill="#222" text-anchor="end">Isolated</text><text x="0" y="8.2" font-size="7.5" fill="#222" text-anchor="end">Stim</text></g>
<g transform="translate(375.60,780.30) rotate(-45)"><text x="0" y="0" font-size="7.5" fill="#222" text-anchor="end">Bulk</text><text x="0" y="8.2" font-size="7.5" fill="#222" text-anchor="end">Control</text></g>
<g transform="translate(399.20,780.30) rotate(-45)"><text x="0" y="0" font-size="7.5" fill="#222" text-anchor="end">Bulk</text><text x="0" y="8.2" font-size="7.5" fill="#222" text-anchor="end">Stim</text></g>
<rect x="169.40" y="678.90" width="6.8" height="7" fill="#a4b882"/>
<text x="180.20" y="685.00" font-size="7.4" fill="#222">Effector</text>
<text x="180.20" y="693.90" font-size="7.4" fill="#222">Granzyme B, IFN-g,</text>
<text x="180.20" y="702.80" font-size="7.4" fill="#222">MIP-1a, Perforin, TNF-a</text>
<rect x="169.40" y="710.20" width="6.8" height="7" fill="#2f9fe3"/>
<text x="180.20" y="716.30" font-size="7.4" fill="#222">Stimulatory</text>
<text x="180.20" y="725.20" font-size="7.4" fill="#222">IL-2, IL-5, IL-8</text>
<rect x="169.40" y="731.30" width="6.8" height="7" fill="#7e78c2"/>
<text x="180.20" y="737.40" font-size="7.4" fill="#222">Chemoattractive</text>
<text x="180.20" y="746.30" font-size="7.4" fill="#222">MIP-1b</text>
<rect x="169.40" y="753.00" width="6.8" height="7" fill="#f7b612"/>
<text x="180.20" y="759.10" font-size="7.4" fill="#222">Regulatory</text>
<text x="180.20" y="768.00" font-size="7.4" fill="#222">IL-4</text>
<rect x="423.80" y="678.90" width="6.8" height="7" fill="#a4b882"/>
<text x="434.60" y="685.00" font-size="7.4" fill="#222">Effector</text>
<text x="434.60" y="693.90" font-size="7.4" fill="#222">Granzyme B, IFN-g,</text>
<text x="434.60" y="702.80" font-size="7.4" fill="#222">MIP-1a, Perforin, TNF-a</text>
<rect x="423.80" y="710.20" width="6.8" height="7" fill="#2f9fe3"/>
<text x="434.60" y="716.30" font-size="7.4" fill="#222">Stimulatory</text>
<text x="434.60" y="725.20" font-size="7.4" fill="#222">IL-2, IL-8</text>
<rect x="423.80" y="731.30" width="6.8" height="7" fill="#7e78c2"/>
<text x="434.60" y="737.40" font-size="7.4" fill="#222">Chemoattractive</text>
<text x="434.60" y="746.30" font-size="7.4" fill="#222">MIP-1b</text>
<rect x="423.80" y="753.00" width="6.8" height="7" fill="#f7b612"/>
<text x="434.60" y="759.10" font-size="7.4" fill="#222">Regulatory</text>
<text x="434.60" y="768.00" font-size="7.4" fill="#222">IL-4</text>
<rect x="0.5" y="0.5" width="519" height="814" fill="none" stroke="#383838" stroke-width="1"/>
</svg>
</body></html>
